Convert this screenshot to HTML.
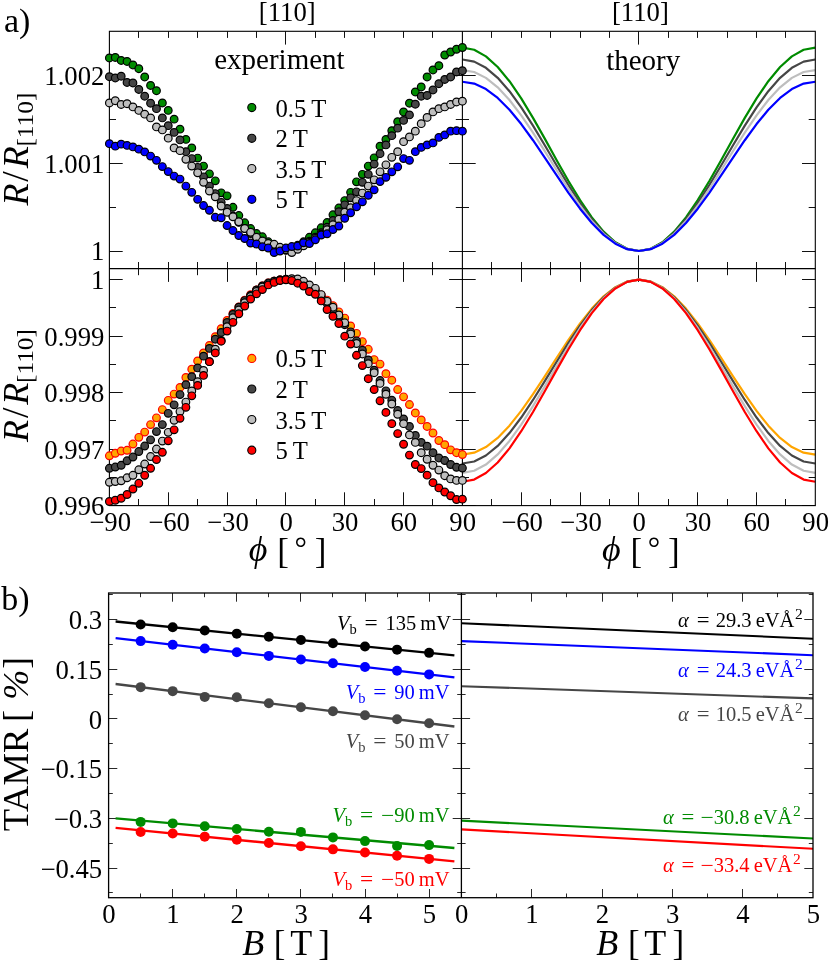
<!DOCTYPE html>
<html><head><meta charset="utf-8"><title>Figure</title>
<style>html,body{margin:0;padding:0;background:#fff;}svg{display:block;will-change:transform;}text{font-family:"Liberation Serif",serif;}</style></head>
<body>
<svg width="830" height="961" viewBox="0 0 830 961" font-family='"Liberation Serif", serif'>
<rect width="830" height="961" fill="#fff"/>
<line x1="138.50" y1="31.30" x2="138.50" y2="37.90" stroke="#111" stroke-width="1.0"/>
<line x1="138.50" y1="268.60" x2="138.50" y2="262.00" stroke="#111" stroke-width="1.0"/>
<line x1="138.50" y1="268.60" x2="138.50" y2="275.20" stroke="#111" stroke-width="1.0"/>
<line x1="138.50" y1="505.60" x2="138.50" y2="499.00" stroke="#111" stroke-width="1.0"/>
<line x1="168.50" y1="31.30" x2="168.50" y2="37.90" stroke="#111" stroke-width="1.0"/>
<line x1="168.50" y1="268.60" x2="168.50" y2="262.00" stroke="#111" stroke-width="1.0"/>
<line x1="168.50" y1="268.60" x2="168.50" y2="281.90" stroke="#111" stroke-width="1.0"/>
<line x1="168.50" y1="505.60" x2="168.50" y2="492.30" stroke="#111" stroke-width="1.0"/>
<line x1="197.50" y1="31.30" x2="197.50" y2="37.90" stroke="#111" stroke-width="1.0"/>
<line x1="197.50" y1="268.60" x2="197.50" y2="262.00" stroke="#111" stroke-width="1.0"/>
<line x1="197.50" y1="268.60" x2="197.50" y2="275.20" stroke="#111" stroke-width="1.0"/>
<line x1="197.50" y1="505.60" x2="197.50" y2="499.00" stroke="#111" stroke-width="1.0"/>
<line x1="227.50" y1="31.30" x2="227.50" y2="37.90" stroke="#111" stroke-width="1.0"/>
<line x1="227.50" y1="268.60" x2="227.50" y2="262.00" stroke="#111" stroke-width="1.0"/>
<line x1="227.50" y1="268.60" x2="227.50" y2="281.90" stroke="#111" stroke-width="1.0"/>
<line x1="227.50" y1="505.60" x2="227.50" y2="492.30" stroke="#111" stroke-width="1.0"/>
<line x1="256.50" y1="31.30" x2="256.50" y2="37.90" stroke="#111" stroke-width="1.0"/>
<line x1="256.50" y1="268.60" x2="256.50" y2="262.00" stroke="#111" stroke-width="1.0"/>
<line x1="256.50" y1="268.60" x2="256.50" y2="275.20" stroke="#111" stroke-width="1.0"/>
<line x1="256.50" y1="505.60" x2="256.50" y2="499.00" stroke="#111" stroke-width="1.0"/>
<line x1="285.50" y1="31.30" x2="285.50" y2="44.60" stroke="#111" stroke-width="1.0"/>
<line x1="285.50" y1="268.60" x2="285.50" y2="255.30" stroke="#111" stroke-width="1.0"/>
<line x1="285.50" y1="268.60" x2="285.50" y2="281.90" stroke="#111" stroke-width="1.0"/>
<line x1="285.50" y1="505.60" x2="285.50" y2="492.30" stroke="#111" stroke-width="1.0"/>
<line x1="315.50" y1="31.30" x2="315.50" y2="37.90" stroke="#111" stroke-width="1.0"/>
<line x1="315.50" y1="268.60" x2="315.50" y2="262.00" stroke="#111" stroke-width="1.0"/>
<line x1="315.50" y1="268.60" x2="315.50" y2="275.20" stroke="#111" stroke-width="1.0"/>
<line x1="315.50" y1="505.60" x2="315.50" y2="499.00" stroke="#111" stroke-width="1.0"/>
<line x1="344.50" y1="31.30" x2="344.50" y2="37.90" stroke="#111" stroke-width="1.0"/>
<line x1="344.50" y1="268.60" x2="344.50" y2="262.00" stroke="#111" stroke-width="1.0"/>
<line x1="344.50" y1="268.60" x2="344.50" y2="281.90" stroke="#111" stroke-width="1.0"/>
<line x1="344.50" y1="505.60" x2="344.50" y2="492.30" stroke="#111" stroke-width="1.0"/>
<line x1="374.50" y1="31.30" x2="374.50" y2="37.90" stroke="#111" stroke-width="1.0"/>
<line x1="374.50" y1="268.60" x2="374.50" y2="262.00" stroke="#111" stroke-width="1.0"/>
<line x1="374.50" y1="268.60" x2="374.50" y2="275.20" stroke="#111" stroke-width="1.0"/>
<line x1="374.50" y1="505.60" x2="374.50" y2="499.00" stroke="#111" stroke-width="1.0"/>
<line x1="403.50" y1="31.30" x2="403.50" y2="37.90" stroke="#111" stroke-width="1.0"/>
<line x1="403.50" y1="268.60" x2="403.50" y2="262.00" stroke="#111" stroke-width="1.0"/>
<line x1="403.50" y1="268.60" x2="403.50" y2="281.90" stroke="#111" stroke-width="1.0"/>
<line x1="403.50" y1="505.60" x2="403.50" y2="492.30" stroke="#111" stroke-width="1.0"/>
<line x1="432.50" y1="31.30" x2="432.50" y2="37.90" stroke="#111" stroke-width="1.0"/>
<line x1="432.50" y1="268.60" x2="432.50" y2="262.00" stroke="#111" stroke-width="1.0"/>
<line x1="432.50" y1="268.60" x2="432.50" y2="275.20" stroke="#111" stroke-width="1.0"/>
<line x1="432.50" y1="505.60" x2="432.50" y2="499.00" stroke="#111" stroke-width="1.0"/>
<line x1="491.50" y1="31.30" x2="491.50" y2="37.90" stroke="#111" stroke-width="1.0"/>
<line x1="491.50" y1="268.60" x2="491.50" y2="262.00" stroke="#111" stroke-width="1.0"/>
<line x1="491.50" y1="268.60" x2="491.50" y2="275.20" stroke="#111" stroke-width="1.0"/>
<line x1="491.50" y1="505.60" x2="491.50" y2="499.00" stroke="#111" stroke-width="1.0"/>
<line x1="521.50" y1="31.30" x2="521.50" y2="37.90" stroke="#111" stroke-width="1.0"/>
<line x1="521.50" y1="268.60" x2="521.50" y2="262.00" stroke="#111" stroke-width="1.0"/>
<line x1="521.50" y1="268.60" x2="521.50" y2="281.90" stroke="#111" stroke-width="1.0"/>
<line x1="521.50" y1="505.60" x2="521.50" y2="492.30" stroke="#111" stroke-width="1.0"/>
<line x1="550.50" y1="31.30" x2="550.50" y2="37.90" stroke="#111" stroke-width="1.0"/>
<line x1="550.50" y1="268.60" x2="550.50" y2="262.00" stroke="#111" stroke-width="1.0"/>
<line x1="550.50" y1="268.60" x2="550.50" y2="275.20" stroke="#111" stroke-width="1.0"/>
<line x1="550.50" y1="505.60" x2="550.50" y2="499.00" stroke="#111" stroke-width="1.0"/>
<line x1="580.50" y1="31.30" x2="580.50" y2="37.90" stroke="#111" stroke-width="1.0"/>
<line x1="580.50" y1="268.60" x2="580.50" y2="262.00" stroke="#111" stroke-width="1.0"/>
<line x1="580.50" y1="268.60" x2="580.50" y2="281.90" stroke="#111" stroke-width="1.0"/>
<line x1="580.50" y1="505.60" x2="580.50" y2="492.30" stroke="#111" stroke-width="1.0"/>
<line x1="609.50" y1="31.30" x2="609.50" y2="37.90" stroke="#111" stroke-width="1.0"/>
<line x1="609.50" y1="268.60" x2="609.50" y2="262.00" stroke="#111" stroke-width="1.0"/>
<line x1="609.50" y1="268.60" x2="609.50" y2="275.20" stroke="#111" stroke-width="1.0"/>
<line x1="609.50" y1="505.60" x2="609.50" y2="499.00" stroke="#111" stroke-width="1.0"/>
<line x1="638.50" y1="31.30" x2="638.50" y2="44.60" stroke="#111" stroke-width="1.0"/>
<line x1="638.50" y1="268.60" x2="638.50" y2="255.30" stroke="#111" stroke-width="1.0"/>
<line x1="638.50" y1="268.60" x2="638.50" y2="281.90" stroke="#111" stroke-width="1.0"/>
<line x1="638.50" y1="505.60" x2="638.50" y2="492.30" stroke="#111" stroke-width="1.0"/>
<line x1="668.50" y1="31.30" x2="668.50" y2="37.90" stroke="#111" stroke-width="1.0"/>
<line x1="668.50" y1="268.60" x2="668.50" y2="262.00" stroke="#111" stroke-width="1.0"/>
<line x1="668.50" y1="268.60" x2="668.50" y2="275.20" stroke="#111" stroke-width="1.0"/>
<line x1="668.50" y1="505.60" x2="668.50" y2="499.00" stroke="#111" stroke-width="1.0"/>
<line x1="697.50" y1="31.30" x2="697.50" y2="37.90" stroke="#111" stroke-width="1.0"/>
<line x1="697.50" y1="268.60" x2="697.50" y2="262.00" stroke="#111" stroke-width="1.0"/>
<line x1="697.50" y1="268.60" x2="697.50" y2="281.90" stroke="#111" stroke-width="1.0"/>
<line x1="697.50" y1="505.60" x2="697.50" y2="492.30" stroke="#111" stroke-width="1.0"/>
<line x1="727.50" y1="31.30" x2="727.50" y2="37.90" stroke="#111" stroke-width="1.0"/>
<line x1="727.50" y1="268.60" x2="727.50" y2="262.00" stroke="#111" stroke-width="1.0"/>
<line x1="727.50" y1="268.60" x2="727.50" y2="275.20" stroke="#111" stroke-width="1.0"/>
<line x1="727.50" y1="505.60" x2="727.50" y2="499.00" stroke="#111" stroke-width="1.0"/>
<line x1="756.50" y1="31.30" x2="756.50" y2="37.90" stroke="#111" stroke-width="1.0"/>
<line x1="756.50" y1="268.60" x2="756.50" y2="262.00" stroke="#111" stroke-width="1.0"/>
<line x1="756.50" y1="268.60" x2="756.50" y2="281.90" stroke="#111" stroke-width="1.0"/>
<line x1="756.50" y1="505.60" x2="756.50" y2="492.30" stroke="#111" stroke-width="1.0"/>
<line x1="785.50" y1="31.30" x2="785.50" y2="37.90" stroke="#111" stroke-width="1.0"/>
<line x1="785.50" y1="268.60" x2="785.50" y2="262.00" stroke="#111" stroke-width="1.0"/>
<line x1="785.50" y1="268.60" x2="785.50" y2="275.20" stroke="#111" stroke-width="1.0"/>
<line x1="785.50" y1="505.60" x2="785.50" y2="499.00" stroke="#111" stroke-width="1.0"/>
<line x1="109.40" y1="251.50" x2="122.70" y2="251.50" stroke="#111" stroke-width="1.0"/>
<line x1="449.10" y1="251.50" x2="475.70" y2="251.50" stroke="#111" stroke-width="1.0"/>
<line x1="802.00" y1="251.50" x2="815.30" y2="251.50" stroke="#111" stroke-width="1.0"/>
<line x1="109.40" y1="207.50" x2="116.00" y2="207.50" stroke="#111" stroke-width="1.0"/>
<line x1="455.80" y1="207.50" x2="469.00" y2="207.50" stroke="#111" stroke-width="1.0"/>
<line x1="808.70" y1="207.50" x2="815.30" y2="207.50" stroke="#111" stroke-width="1.0"/>
<line x1="109.40" y1="163.50" x2="122.70" y2="163.50" stroke="#111" stroke-width="1.0"/>
<line x1="449.10" y1="163.50" x2="475.70" y2="163.50" stroke="#111" stroke-width="1.0"/>
<line x1="802.00" y1="163.50" x2="815.30" y2="163.50" stroke="#111" stroke-width="1.0"/>
<line x1="109.40" y1="119.50" x2="116.00" y2="119.50" stroke="#111" stroke-width="1.0"/>
<line x1="455.80" y1="119.50" x2="469.00" y2="119.50" stroke="#111" stroke-width="1.0"/>
<line x1="808.70" y1="119.50" x2="815.30" y2="119.50" stroke="#111" stroke-width="1.0"/>
<line x1="109.40" y1="75.50" x2="122.70" y2="75.50" stroke="#111" stroke-width="1.0"/>
<line x1="449.10" y1="75.50" x2="475.70" y2="75.50" stroke="#111" stroke-width="1.0"/>
<line x1="802.00" y1="75.50" x2="815.30" y2="75.50" stroke="#111" stroke-width="1.0"/>
<line x1="109.40" y1="505.50" x2="122.70" y2="505.50" stroke="#111" stroke-width="1.0"/>
<line x1="449.10" y1="505.50" x2="475.70" y2="505.50" stroke="#111" stroke-width="1.0"/>
<line x1="802.00" y1="505.50" x2="815.30" y2="505.50" stroke="#111" stroke-width="1.0"/>
<line x1="109.40" y1="477.50" x2="116.00" y2="477.50" stroke="#111" stroke-width="1.0"/>
<line x1="455.80" y1="477.50" x2="469.00" y2="477.50" stroke="#111" stroke-width="1.0"/>
<line x1="808.70" y1="477.50" x2="815.30" y2="477.50" stroke="#111" stroke-width="1.0"/>
<line x1="109.40" y1="449.50" x2="122.70" y2="449.50" stroke="#111" stroke-width="1.0"/>
<line x1="449.10" y1="449.50" x2="475.70" y2="449.50" stroke="#111" stroke-width="1.0"/>
<line x1="802.00" y1="449.50" x2="815.30" y2="449.50" stroke="#111" stroke-width="1.0"/>
<line x1="109.40" y1="420.50" x2="116.00" y2="420.50" stroke="#111" stroke-width="1.0"/>
<line x1="455.80" y1="420.50" x2="469.00" y2="420.50" stroke="#111" stroke-width="1.0"/>
<line x1="808.70" y1="420.50" x2="815.30" y2="420.50" stroke="#111" stroke-width="1.0"/>
<line x1="109.40" y1="392.50" x2="122.70" y2="392.50" stroke="#111" stroke-width="1.0"/>
<line x1="449.10" y1="392.50" x2="475.70" y2="392.50" stroke="#111" stroke-width="1.0"/>
<line x1="802.00" y1="392.50" x2="815.30" y2="392.50" stroke="#111" stroke-width="1.0"/>
<line x1="109.40" y1="364.50" x2="116.00" y2="364.50" stroke="#111" stroke-width="1.0"/>
<line x1="455.80" y1="364.50" x2="469.00" y2="364.50" stroke="#111" stroke-width="1.0"/>
<line x1="808.70" y1="364.50" x2="815.30" y2="364.50" stroke="#111" stroke-width="1.0"/>
<line x1="109.40" y1="336.50" x2="122.70" y2="336.50" stroke="#111" stroke-width="1.0"/>
<line x1="449.10" y1="336.50" x2="475.70" y2="336.50" stroke="#111" stroke-width="1.0"/>
<line x1="802.00" y1="336.50" x2="815.30" y2="336.50" stroke="#111" stroke-width="1.0"/>
<line x1="109.40" y1="307.50" x2="116.00" y2="307.50" stroke="#111" stroke-width="1.0"/>
<line x1="455.80" y1="307.50" x2="469.00" y2="307.50" stroke="#111" stroke-width="1.0"/>
<line x1="808.70" y1="307.50" x2="815.30" y2="307.50" stroke="#111" stroke-width="1.0"/>
<line x1="109.40" y1="279.50" x2="122.70" y2="279.50" stroke="#111" stroke-width="1.0"/>
<line x1="449.10" y1="279.50" x2="475.70" y2="279.50" stroke="#111" stroke-width="1.0"/>
<line x1="802.00" y1="279.50" x2="815.30" y2="279.50" stroke="#111" stroke-width="1.0"/>
<clipPath id="cT"><rect x="462.4" y="31.3" width="352.9" height="237.3"/></clipPath>
<clipPath id="cB"><rect x="462.4" y="268.6" width="352.9" height="237.0"/></clipPath>
<g clip-path="url(#cT)">
<polyline fill="none" stroke="#008b00" stroke-width="2.2" stroke-linejoin="round" points="462.40,47.56 474.17,49.78 485.93,56.35 497.70,66.99 509.47,81.22 521.23,98.42 533.00,117.85 544.77,138.66 556.53,159.92 568.30,180.73 580.07,200.16 591.83,217.36 603.60,231.59 615.37,242.23 627.13,248.80 638.90,251.02 650.67,248.80 662.43,242.23 674.20,231.59 685.97,217.36 697.73,200.16 709.50,180.73 721.27,159.92 733.03,138.66 744.80,117.85 756.57,98.42 768.33,81.22 780.10,66.99 791.87,56.35 803.63,49.78 815.40,47.56"/>
<polyline fill="none" stroke="#464646" stroke-width="2.2" stroke-linejoin="round" points="462.40,59.51 474.17,61.60 485.93,67.79 497.70,77.80 509.47,91.19 521.23,107.39 533.00,125.68 544.77,145.26 556.53,165.28 568.30,184.86 580.07,203.14 591.83,219.34 603.60,232.73 615.37,242.74 627.13,248.93 638.90,251.02 650.67,248.93 662.43,242.74 674.20,232.73 685.97,219.34 697.73,203.14 709.50,184.86 721.27,165.28 733.03,145.26 744.80,125.68 756.57,107.39 768.33,91.19 780.10,77.80 791.87,67.79 803.63,61.60 815.40,59.51"/>
<polyline fill="none" stroke="#bebebe" stroke-width="2.2" stroke-linejoin="round" points="462.40,70.06 474.17,72.03 485.93,77.88 497.70,87.34 509.47,99.99 521.23,115.30 533.00,132.58 544.77,151.08 556.53,170.00 568.30,188.50 580.07,205.78 591.83,221.08 603.60,233.74 615.37,243.20 627.13,249.04 638.90,251.02 650.67,249.04 662.43,243.20 674.20,233.74 685.97,221.08 697.73,205.78 709.50,188.50 721.27,170.00 733.03,151.08 744.80,132.58 756.57,115.30 768.33,99.99 780.10,87.34 791.87,77.88 803.63,72.03 815.40,70.06"/>
<polyline fill="none" stroke="#0000ff" stroke-width="2.2" stroke-linejoin="round" points="462.40,81.75 474.17,83.60 485.93,89.06 497.70,97.91 509.47,109.75 521.23,124.06 533.00,140.23 544.77,157.54 556.53,175.23 568.30,192.54 580.07,208.70 591.83,223.02 603.60,234.86 615.37,243.70 627.13,249.17 638.90,251.02 650.67,249.17 662.43,243.70 674.20,234.86 685.97,223.02 697.73,208.70 709.50,192.54 721.27,175.23 733.03,157.54 744.80,140.23 756.57,124.06 768.33,109.75 780.10,97.91 791.87,89.06 803.63,83.60 815.40,81.75"/>
</g>
<g clip-path="url(#cB)">
<polyline fill="none" stroke="#ffa500" stroke-width="2.2" stroke-linejoin="round" points="462.40,454.60 474.17,452.69 485.93,447.04 497.70,437.90 509.47,425.66 521.23,410.87 533.00,394.17 544.77,376.28 556.53,358.00 568.30,340.11 580.07,323.41 591.83,308.62 603.60,296.38 615.37,287.24 627.13,281.59 638.90,279.68 650.67,281.59 662.43,287.24 674.20,296.38 685.97,308.62 697.73,323.41 709.50,340.11 721.27,358.00 733.03,376.28 744.80,394.17 756.57,410.87 768.33,425.66 780.10,437.90 791.87,447.04 803.63,452.69 815.40,454.60"/>
<polyline fill="none" stroke="#464646" stroke-width="2.2" stroke-linejoin="round" points="462.40,463.47 474.17,461.46 485.93,455.52 497.70,445.92 509.47,433.06 521.23,417.52 533.00,399.97 544.77,381.18 556.53,361.97 568.30,343.18 580.07,325.63 591.83,310.08 603.60,297.23 615.37,287.62 627.13,281.69 638.90,279.68 650.67,281.69 662.43,287.62 674.20,297.23 685.97,310.08 697.73,325.63 709.50,343.18 721.27,361.97 733.03,381.18 744.80,399.97 756.57,417.52 768.33,433.06 780.10,445.92 791.87,455.52 803.63,461.46 815.40,463.47"/>
<polyline fill="none" stroke="#bebebe" stroke-width="2.2" stroke-linejoin="round" points="462.40,472.90 474.17,470.79 485.93,464.55 497.70,454.45 509.47,440.93 521.23,424.59 533.00,406.14 544.77,386.39 556.53,366.19 568.30,346.44 580.07,327.98 591.83,311.64 603.60,298.13 615.37,288.03 627.13,281.79 638.90,279.68 650.67,281.79 662.43,288.03 674.20,298.13 685.97,311.64 697.73,327.98 709.50,346.44 721.27,366.19 733.03,386.39 744.80,406.14 756.57,424.59 768.33,440.93 780.10,454.45 791.87,464.55 803.63,470.79 815.40,472.90"/>
<polyline fill="none" stroke="#ff0000" stroke-width="2.2" stroke-linejoin="round" points="462.40,481.77 474.17,479.56 485.93,473.03 497.70,462.47 509.47,448.33 521.23,431.24 533.00,411.95 544.77,391.28 556.53,370.16 568.30,349.50 580.07,330.20 591.83,313.11 603.60,298.98 615.37,288.42 627.13,281.89 638.90,279.68 650.67,281.89 662.43,288.42 674.20,298.98 685.97,313.11 697.73,330.20 709.50,349.50 721.27,370.16 733.03,391.28 744.80,411.95 756.57,431.24 768.33,448.33 780.10,462.47 791.87,473.03 803.63,479.56 815.40,481.77"/>
</g>
<rect x="109.4" y="31.3" width="705.9" height="474.3" fill="none" stroke="#000" stroke-width="1.1"/>
<line x1="462.40" y1="31.30" x2="462.40" y2="505.60" stroke="#000" stroke-width="1.1"/>
<line x1="109.40" y1="268.60" x2="815.30" y2="268.60" stroke="#000" stroke-width="1.1"/>
<circle cx="109.40" cy="57.97" r="3.85" fill="#008b00" stroke="#000" stroke-width="1.2"/>
<circle cx="115.28" cy="57.47" r="3.85" fill="#008b00" stroke="#000" stroke-width="1.2"/>
<circle cx="121.17" cy="60.47" r="3.85" fill="#008b00" stroke="#000" stroke-width="1.2"/>
<circle cx="127.05" cy="61.47" r="3.85" fill="#008b00" stroke="#000" stroke-width="1.2"/>
<circle cx="132.93" cy="64.97" r="3.85" fill="#008b00" stroke="#000" stroke-width="1.2"/>
<circle cx="138.82" cy="68.71" r="3.85" fill="#008b00" stroke="#000" stroke-width="1.2"/>
<circle cx="144.70" cy="76.95" r="3.85" fill="#008b00" stroke="#000" stroke-width="1.2"/>
<circle cx="150.58" cy="85.44" r="3.85" fill="#008b00" stroke="#000" stroke-width="1.2"/>
<circle cx="156.47" cy="90.69" r="3.85" fill="#008b00" stroke="#000" stroke-width="1.2"/>
<circle cx="162.35" cy="102.93" r="3.85" fill="#008b00" stroke="#000" stroke-width="1.2"/>
<circle cx="168.23" cy="110.42" r="3.85" fill="#008b00" stroke="#000" stroke-width="1.2"/>
<circle cx="174.12" cy="119.16" r="3.85" fill="#008b00" stroke="#000" stroke-width="1.2"/>
<circle cx="180.00" cy="129.15" r="3.85" fill="#008b00" stroke="#000" stroke-width="1.2"/>
<circle cx="185.88" cy="139.39" r="3.85" fill="#008b00" stroke="#000" stroke-width="1.2"/>
<circle cx="191.77" cy="147.88" r="3.85" fill="#008b00" stroke="#000" stroke-width="1.2"/>
<circle cx="197.65" cy="158.12" r="3.85" fill="#008b00" stroke="#000" stroke-width="1.2"/>
<circle cx="203.53" cy="166.11" r="3.85" fill="#008b00" stroke="#000" stroke-width="1.2"/>
<circle cx="209.42" cy="173.86" r="3.85" fill="#008b00" stroke="#000" stroke-width="1.2"/>
<circle cx="215.30" cy="180.85" r="3.85" fill="#008b00" stroke="#000" stroke-width="1.2"/>
<circle cx="221.18" cy="192.84" r="3.85" fill="#008b00" stroke="#000" stroke-width="1.2"/>
<circle cx="227.07" cy="195.83" r="3.85" fill="#008b00" stroke="#000" stroke-width="1.2"/>
<circle cx="232.95" cy="207.32" r="3.85" fill="#008b00" stroke="#000" stroke-width="1.2"/>
<circle cx="238.83" cy="215.56" r="3.85" fill="#008b00" stroke="#000" stroke-width="1.2"/>
<circle cx="244.72" cy="222.81" r="3.85" fill="#008b00" stroke="#000" stroke-width="1.2"/>
<circle cx="250.60" cy="228.55" r="3.85" fill="#008b00" stroke="#000" stroke-width="1.2"/>
<circle cx="256.48" cy="233.55" r="3.85" fill="#008b00" stroke="#000" stroke-width="1.2"/>
<circle cx="262.37" cy="236.79" r="3.85" fill="#008b00" stroke="#000" stroke-width="1.2"/>
<circle cx="268.25" cy="241.79" r="3.85" fill="#008b00" stroke="#000" stroke-width="1.2"/>
<circle cx="274.13" cy="245.28" r="3.85" fill="#008b00" stroke="#000" stroke-width="1.2"/>
<circle cx="280.02" cy="247.78" r="3.85" fill="#008b00" stroke="#000" stroke-width="1.2"/>
<circle cx="285.90" cy="249.28" r="3.85" fill="#008b00" stroke="#000" stroke-width="1.2"/>
<circle cx="291.78" cy="247.78" r="3.85" fill="#008b00" stroke="#000" stroke-width="1.2"/>
<circle cx="297.67" cy="245.28" r="3.85" fill="#008b00" stroke="#000" stroke-width="1.2"/>
<circle cx="303.55" cy="241.79" r="3.85" fill="#008b00" stroke="#000" stroke-width="1.2"/>
<circle cx="309.43" cy="237.29" r="3.85" fill="#008b00" stroke="#000" stroke-width="1.2"/>
<circle cx="315.32" cy="232.80" r="3.85" fill="#008b00" stroke="#000" stroke-width="1.2"/>
<circle cx="321.20" cy="227.80" r="3.85" fill="#008b00" stroke="#000" stroke-width="1.2"/>
<circle cx="327.08" cy="222.56" r="3.85" fill="#008b00" stroke="#000" stroke-width="1.2"/>
<circle cx="332.97" cy="214.82" r="3.85" fill="#008b00" stroke="#000" stroke-width="1.2"/>
<circle cx="338.85" cy="208.07" r="3.85" fill="#008b00" stroke="#000" stroke-width="1.2"/>
<circle cx="344.73" cy="200.58" r="3.85" fill="#008b00" stroke="#000" stroke-width="1.2"/>
<circle cx="350.62" cy="192.34" r="3.85" fill="#008b00" stroke="#000" stroke-width="1.2"/>
<circle cx="356.50" cy="181.85" r="3.85" fill="#008b00" stroke="#000" stroke-width="1.2"/>
<circle cx="362.38" cy="174.36" r="3.85" fill="#008b00" stroke="#000" stroke-width="1.2"/>
<circle cx="368.27" cy="166.11" r="3.85" fill="#008b00" stroke="#000" stroke-width="1.2"/>
<circle cx="374.15" cy="157.87" r="3.85" fill="#008b00" stroke="#000" stroke-width="1.2"/>
<circle cx="380.03" cy="146.13" r="3.85" fill="#008b00" stroke="#000" stroke-width="1.2"/>
<circle cx="385.92" cy="139.39" r="3.85" fill="#008b00" stroke="#000" stroke-width="1.2"/>
<circle cx="391.80" cy="130.65" r="3.85" fill="#008b00" stroke="#000" stroke-width="1.2"/>
<circle cx="397.68" cy="121.66" r="3.85" fill="#008b00" stroke="#000" stroke-width="1.2"/>
<circle cx="403.57" cy="111.92" r="3.85" fill="#008b00" stroke="#000" stroke-width="1.2"/>
<circle cx="409.45" cy="103.18" r="3.85" fill="#008b00" stroke="#000" stroke-width="1.2"/>
<circle cx="415.33" cy="91.94" r="3.85" fill="#008b00" stroke="#000" stroke-width="1.2"/>
<circle cx="421.22" cy="86.94" r="3.85" fill="#008b00" stroke="#000" stroke-width="1.2"/>
<circle cx="427.10" cy="76.95" r="3.85" fill="#008b00" stroke="#000" stroke-width="1.2"/>
<circle cx="432.98" cy="69.96" r="3.85" fill="#008b00" stroke="#000" stroke-width="1.2"/>
<circle cx="438.87" cy="65.71" r="3.85" fill="#008b00" stroke="#000" stroke-width="1.2"/>
<circle cx="444.75" cy="54.98" r="3.85" fill="#008b00" stroke="#000" stroke-width="1.2"/>
<circle cx="450.63" cy="51.98" r="3.85" fill="#008b00" stroke="#000" stroke-width="1.2"/>
<circle cx="456.52" cy="49.23" r="3.85" fill="#008b00" stroke="#000" stroke-width="1.2"/>
<circle cx="462.40" cy="47.48" r="3.85" fill="#008b00" stroke="#000" stroke-width="1.2"/>
<circle cx="109.40" cy="76.70" r="3.85" fill="#464646" stroke="#000" stroke-width="1.2"/>
<circle cx="115.28" cy="77.95" r="3.85" fill="#464646" stroke="#000" stroke-width="1.2"/>
<circle cx="121.17" cy="76.20" r="3.85" fill="#464646" stroke="#000" stroke-width="1.2"/>
<circle cx="127.05" cy="82.45" r="3.85" fill="#464646" stroke="#000" stroke-width="1.2"/>
<circle cx="132.93" cy="82.95" r="3.85" fill="#464646" stroke="#000" stroke-width="1.2"/>
<circle cx="138.82" cy="89.44" r="3.85" fill="#464646" stroke="#000" stroke-width="1.2"/>
<circle cx="144.70" cy="96.18" r="3.85" fill="#464646" stroke="#000" stroke-width="1.2"/>
<circle cx="150.58" cy="103.18" r="3.85" fill="#464646" stroke="#000" stroke-width="1.2"/>
<circle cx="156.47" cy="108.67" r="3.85" fill="#464646" stroke="#000" stroke-width="1.2"/>
<circle cx="162.35" cy="117.91" r="3.85" fill="#464646" stroke="#000" stroke-width="1.2"/>
<circle cx="168.23" cy="125.65" r="3.85" fill="#464646" stroke="#000" stroke-width="1.2"/>
<circle cx="174.12" cy="132.40" r="3.85" fill="#464646" stroke="#000" stroke-width="1.2"/>
<circle cx="180.00" cy="139.89" r="3.85" fill="#464646" stroke="#000" stroke-width="1.2"/>
<circle cx="185.88" cy="151.63" r="3.85" fill="#464646" stroke="#000" stroke-width="1.2"/>
<circle cx="191.77" cy="158.62" r="3.85" fill="#464646" stroke="#000" stroke-width="1.2"/>
<circle cx="197.65" cy="167.36" r="3.85" fill="#464646" stroke="#000" stroke-width="1.2"/>
<circle cx="203.53" cy="176.85" r="3.85" fill="#464646" stroke="#000" stroke-width="1.2"/>
<circle cx="209.42" cy="186.09" r="3.85" fill="#464646" stroke="#000" stroke-width="1.2"/>
<circle cx="215.30" cy="193.59" r="3.85" fill="#464646" stroke="#000" stroke-width="1.2"/>
<circle cx="221.18" cy="202.33" r="3.85" fill="#464646" stroke="#000" stroke-width="1.2"/>
<circle cx="227.07" cy="208.57" r="3.85" fill="#464646" stroke="#000" stroke-width="1.2"/>
<circle cx="232.95" cy="216.06" r="3.85" fill="#464646" stroke="#000" stroke-width="1.2"/>
<circle cx="238.83" cy="222.31" r="3.85" fill="#464646" stroke="#000" stroke-width="1.2"/>
<circle cx="244.72" cy="228.55" r="3.85" fill="#464646" stroke="#000" stroke-width="1.2"/>
<circle cx="250.60" cy="233.55" r="3.85" fill="#464646" stroke="#000" stroke-width="1.2"/>
<circle cx="256.48" cy="237.79" r="3.85" fill="#464646" stroke="#000" stroke-width="1.2"/>
<circle cx="262.37" cy="241.79" r="3.85" fill="#464646" stroke="#000" stroke-width="1.2"/>
<circle cx="268.25" cy="244.79" r="3.85" fill="#464646" stroke="#000" stroke-width="1.2"/>
<circle cx="274.13" cy="247.28" r="3.85" fill="#464646" stroke="#000" stroke-width="1.2"/>
<circle cx="280.02" cy="249.28" r="3.85" fill="#464646" stroke="#000" stroke-width="1.2"/>
<circle cx="285.90" cy="250.28" r="3.85" fill="#464646" stroke="#000" stroke-width="1.2"/>
<circle cx="291.78" cy="249.28" r="3.85" fill="#464646" stroke="#000" stroke-width="1.2"/>
<circle cx="297.67" cy="247.28" r="3.85" fill="#464646" stroke="#000" stroke-width="1.2"/>
<circle cx="303.55" cy="244.79" r="3.85" fill="#464646" stroke="#000" stroke-width="1.2"/>
<circle cx="309.43" cy="241.29" r="3.85" fill="#464646" stroke="#000" stroke-width="1.2"/>
<circle cx="315.32" cy="237.29" r="3.85" fill="#464646" stroke="#000" stroke-width="1.2"/>
<circle cx="321.20" cy="232.80" r="3.85" fill="#464646" stroke="#000" stroke-width="1.2"/>
<circle cx="327.08" cy="227.30" r="3.85" fill="#464646" stroke="#000" stroke-width="1.2"/>
<circle cx="332.97" cy="220.56" r="3.85" fill="#464646" stroke="#000" stroke-width="1.2"/>
<circle cx="338.85" cy="211.82" r="3.85" fill="#464646" stroke="#000" stroke-width="1.2"/>
<circle cx="344.73" cy="204.83" r="3.85" fill="#464646" stroke="#000" stroke-width="1.2"/>
<circle cx="350.62" cy="197.83" r="3.85" fill="#464646" stroke="#000" stroke-width="1.2"/>
<circle cx="356.50" cy="191.84" r="3.85" fill="#464646" stroke="#000" stroke-width="1.2"/>
<circle cx="362.38" cy="182.35" r="3.85" fill="#464646" stroke="#000" stroke-width="1.2"/>
<circle cx="368.27" cy="174.36" r="3.85" fill="#464646" stroke="#000" stroke-width="1.2"/>
<circle cx="374.15" cy="164.12" r="3.85" fill="#464646" stroke="#000" stroke-width="1.2"/>
<circle cx="380.03" cy="153.63" r="3.85" fill="#464646" stroke="#000" stroke-width="1.2"/>
<circle cx="385.92" cy="144.89" r="3.85" fill="#464646" stroke="#000" stroke-width="1.2"/>
<circle cx="391.80" cy="135.64" r="3.85" fill="#464646" stroke="#000" stroke-width="1.2"/>
<circle cx="397.68" cy="128.15" r="3.85" fill="#464646" stroke="#000" stroke-width="1.2"/>
<circle cx="403.57" cy="120.41" r="3.85" fill="#464646" stroke="#000" stroke-width="1.2"/>
<circle cx="409.45" cy="114.92" r="3.85" fill="#464646" stroke="#000" stroke-width="1.2"/>
<circle cx="415.33" cy="104.18" r="3.85" fill="#464646" stroke="#000" stroke-width="1.2"/>
<circle cx="421.22" cy="96.18" r="3.85" fill="#464646" stroke="#000" stroke-width="1.2"/>
<circle cx="427.10" cy="95.43" r="3.85" fill="#464646" stroke="#000" stroke-width="1.2"/>
<circle cx="432.98" cy="89.94" r="3.85" fill="#464646" stroke="#000" stroke-width="1.2"/>
<circle cx="438.87" cy="83.70" r="3.85" fill="#464646" stroke="#000" stroke-width="1.2"/>
<circle cx="444.75" cy="79.45" r="3.85" fill="#464646" stroke="#000" stroke-width="1.2"/>
<circle cx="450.63" cy="76.95" r="3.85" fill="#464646" stroke="#000" stroke-width="1.2"/>
<circle cx="456.52" cy="71.96" r="3.85" fill="#464646" stroke="#000" stroke-width="1.2"/>
<circle cx="462.40" cy="70.71" r="3.85" fill="#464646" stroke="#000" stroke-width="1.2"/>
<circle cx="109.40" cy="102.93" r="3.85" fill="#bebebe" stroke="#000" stroke-width="1.2"/>
<circle cx="115.28" cy="100.68" r="3.85" fill="#bebebe" stroke="#000" stroke-width="1.2"/>
<circle cx="121.17" cy="104.43" r="3.85" fill="#bebebe" stroke="#000" stroke-width="1.2"/>
<circle cx="127.05" cy="103.68" r="3.85" fill="#bebebe" stroke="#000" stroke-width="1.2"/>
<circle cx="132.93" cy="106.92" r="3.85" fill="#bebebe" stroke="#000" stroke-width="1.2"/>
<circle cx="138.82" cy="110.42" r="3.85" fill="#bebebe" stroke="#000" stroke-width="1.2"/>
<circle cx="144.70" cy="114.17" r="3.85" fill="#bebebe" stroke="#000" stroke-width="1.2"/>
<circle cx="150.58" cy="117.91" r="3.85" fill="#bebebe" stroke="#000" stroke-width="1.2"/>
<circle cx="156.47" cy="126.90" r="3.85" fill="#bebebe" stroke="#000" stroke-width="1.2"/>
<circle cx="162.35" cy="129.90" r="3.85" fill="#bebebe" stroke="#000" stroke-width="1.2"/>
<circle cx="168.23" cy="138.14" r="3.85" fill="#bebebe" stroke="#000" stroke-width="1.2"/>
<circle cx="174.12" cy="147.88" r="3.85" fill="#bebebe" stroke="#000" stroke-width="1.2"/>
<circle cx="180.00" cy="150.63" r="3.85" fill="#bebebe" stroke="#000" stroke-width="1.2"/>
<circle cx="185.88" cy="159.37" r="3.85" fill="#bebebe" stroke="#000" stroke-width="1.2"/>
<circle cx="191.77" cy="166.11" r="3.85" fill="#bebebe" stroke="#000" stroke-width="1.2"/>
<circle cx="197.65" cy="172.86" r="3.85" fill="#bebebe" stroke="#000" stroke-width="1.2"/>
<circle cx="203.53" cy="182.35" r="3.85" fill="#bebebe" stroke="#000" stroke-width="1.2"/>
<circle cx="209.42" cy="191.09" r="3.85" fill="#bebebe" stroke="#000" stroke-width="1.2"/>
<circle cx="215.30" cy="196.83" r="3.85" fill="#bebebe" stroke="#000" stroke-width="1.2"/>
<circle cx="221.18" cy="206.07" r="3.85" fill="#bebebe" stroke="#000" stroke-width="1.2"/>
<circle cx="227.07" cy="212.32" r="3.85" fill="#bebebe" stroke="#000" stroke-width="1.2"/>
<circle cx="232.95" cy="216.81" r="3.85" fill="#bebebe" stroke="#000" stroke-width="1.2"/>
<circle cx="238.83" cy="221.81" r="3.85" fill="#bebebe" stroke="#000" stroke-width="1.2"/>
<circle cx="244.72" cy="228.55" r="3.85" fill="#bebebe" stroke="#000" stroke-width="1.2"/>
<circle cx="250.60" cy="232.30" r="3.85" fill="#bebebe" stroke="#000" stroke-width="1.2"/>
<circle cx="256.48" cy="237.29" r="3.85" fill="#bebebe" stroke="#000" stroke-width="1.2"/>
<circle cx="262.37" cy="241.04" r="3.85" fill="#bebebe" stroke="#000" stroke-width="1.2"/>
<circle cx="268.25" cy="243.54" r="3.85" fill="#bebebe" stroke="#000" stroke-width="1.2"/>
<circle cx="274.13" cy="244.29" r="3.85" fill="#bebebe" stroke="#000" stroke-width="1.2"/>
<circle cx="280.02" cy="247.28" r="3.85" fill="#bebebe" stroke="#000" stroke-width="1.2"/>
<circle cx="285.90" cy="249.78" r="3.85" fill="#bebebe" stroke="#000" stroke-width="1.2"/>
<circle cx="291.78" cy="252.53" r="3.85" fill="#bebebe" stroke="#000" stroke-width="1.2"/>
<circle cx="297.67" cy="249.28" r="3.85" fill="#bebebe" stroke="#000" stroke-width="1.2"/>
<circle cx="303.55" cy="245.78" r="3.85" fill="#bebebe" stroke="#000" stroke-width="1.2"/>
<circle cx="309.43" cy="242.29" r="3.85" fill="#bebebe" stroke="#000" stroke-width="1.2"/>
<circle cx="315.32" cy="238.54" r="3.85" fill="#bebebe" stroke="#000" stroke-width="1.2"/>
<circle cx="321.20" cy="234.30" r="3.85" fill="#bebebe" stroke="#000" stroke-width="1.2"/>
<circle cx="327.08" cy="229.80" r="3.85" fill="#bebebe" stroke="#000" stroke-width="1.2"/>
<circle cx="332.97" cy="224.81" r="3.85" fill="#bebebe" stroke="#000" stroke-width="1.2"/>
<circle cx="338.85" cy="219.31" r="3.85" fill="#bebebe" stroke="#000" stroke-width="1.2"/>
<circle cx="344.73" cy="212.32" r="3.85" fill="#bebebe" stroke="#000" stroke-width="1.2"/>
<circle cx="350.62" cy="207.82" r="3.85" fill="#bebebe" stroke="#000" stroke-width="1.2"/>
<circle cx="356.50" cy="200.58" r="3.85" fill="#bebebe" stroke="#000" stroke-width="1.2"/>
<circle cx="362.38" cy="193.09" r="3.85" fill="#bebebe" stroke="#000" stroke-width="1.2"/>
<circle cx="368.27" cy="186.09" r="3.85" fill="#bebebe" stroke="#000" stroke-width="1.2"/>
<circle cx="374.15" cy="179.85" r="3.85" fill="#bebebe" stroke="#000" stroke-width="1.2"/>
<circle cx="380.03" cy="171.86" r="3.85" fill="#bebebe" stroke="#000" stroke-width="1.2"/>
<circle cx="385.92" cy="164.87" r="3.85" fill="#bebebe" stroke="#000" stroke-width="1.2"/>
<circle cx="391.80" cy="157.37" r="3.85" fill="#bebebe" stroke="#000" stroke-width="1.2"/>
<circle cx="397.68" cy="151.63" r="3.85" fill="#bebebe" stroke="#000" stroke-width="1.2"/>
<circle cx="403.57" cy="141.64" r="3.85" fill="#bebebe" stroke="#000" stroke-width="1.2"/>
<circle cx="409.45" cy="136.89" r="3.85" fill="#bebebe" stroke="#000" stroke-width="1.2"/>
<circle cx="415.33" cy="131.15" r="3.85" fill="#bebebe" stroke="#000" stroke-width="1.2"/>
<circle cx="421.22" cy="123.66" r="3.85" fill="#bebebe" stroke="#000" stroke-width="1.2"/>
<circle cx="427.10" cy="117.41" r="3.85" fill="#bebebe" stroke="#000" stroke-width="1.2"/>
<circle cx="432.98" cy="111.92" r="3.85" fill="#bebebe" stroke="#000" stroke-width="1.2"/>
<circle cx="438.87" cy="108.67" r="3.85" fill="#bebebe" stroke="#000" stroke-width="1.2"/>
<circle cx="444.75" cy="106.92" r="3.85" fill="#bebebe" stroke="#000" stroke-width="1.2"/>
<circle cx="450.63" cy="104.43" r="3.85" fill="#bebebe" stroke="#000" stroke-width="1.2"/>
<circle cx="456.52" cy="101.93" r="3.85" fill="#bebebe" stroke="#000" stroke-width="1.2"/>
<circle cx="462.40" cy="101.18" r="3.85" fill="#bebebe" stroke="#000" stroke-width="1.2"/>
<circle cx="109.40" cy="143.64" r="3.85" fill="#0000ff" stroke="#000" stroke-width="1.2"/>
<circle cx="115.28" cy="146.13" r="3.85" fill="#0000ff" stroke="#000" stroke-width="1.2"/>
<circle cx="121.17" cy="144.14" r="3.85" fill="#0000ff" stroke="#000" stroke-width="1.2"/>
<circle cx="127.05" cy="145.38" r="3.85" fill="#0000ff" stroke="#000" stroke-width="1.2"/>
<circle cx="132.93" cy="146.88" r="3.85" fill="#0000ff" stroke="#000" stroke-width="1.2"/>
<circle cx="138.82" cy="149.13" r="3.85" fill="#0000ff" stroke="#000" stroke-width="1.2"/>
<circle cx="144.70" cy="151.88" r="3.85" fill="#0000ff" stroke="#000" stroke-width="1.2"/>
<circle cx="150.58" cy="156.12" r="3.85" fill="#0000ff" stroke="#000" stroke-width="1.2"/>
<circle cx="156.47" cy="160.37" r="3.85" fill="#0000ff" stroke="#000" stroke-width="1.2"/>
<circle cx="162.35" cy="166.61" r="3.85" fill="#0000ff" stroke="#000" stroke-width="1.2"/>
<circle cx="168.23" cy="171.61" r="3.85" fill="#0000ff" stroke="#000" stroke-width="1.2"/>
<circle cx="174.12" cy="176.10" r="3.85" fill="#0000ff" stroke="#000" stroke-width="1.2"/>
<circle cx="180.00" cy="179.10" r="3.85" fill="#0000ff" stroke="#000" stroke-width="1.2"/>
<circle cx="185.88" cy="186.09" r="3.85" fill="#0000ff" stroke="#000" stroke-width="1.2"/>
<circle cx="191.77" cy="192.34" r="3.85" fill="#0000ff" stroke="#000" stroke-width="1.2"/>
<circle cx="197.65" cy="199.33" r="3.85" fill="#0000ff" stroke="#000" stroke-width="1.2"/>
<circle cx="203.53" cy="205.57" r="3.85" fill="#0000ff" stroke="#000" stroke-width="1.2"/>
<circle cx="209.42" cy="210.32" r="3.85" fill="#0000ff" stroke="#000" stroke-width="1.2"/>
<circle cx="215.30" cy="217.31" r="3.85" fill="#0000ff" stroke="#000" stroke-width="1.2"/>
<circle cx="221.18" cy="217.81" r="3.85" fill="#0000ff" stroke="#000" stroke-width="1.2"/>
<circle cx="227.07" cy="225.55" r="3.85" fill="#0000ff" stroke="#000" stroke-width="1.2"/>
<circle cx="232.95" cy="230.55" r="3.85" fill="#0000ff" stroke="#000" stroke-width="1.2"/>
<circle cx="238.83" cy="235.54" r="3.85" fill="#0000ff" stroke="#000" stroke-width="1.2"/>
<circle cx="244.72" cy="238.54" r="3.85" fill="#0000ff" stroke="#000" stroke-width="1.2"/>
<circle cx="250.60" cy="243.04" r="3.85" fill="#0000ff" stroke="#000" stroke-width="1.2"/>
<circle cx="256.48" cy="244.04" r="3.85" fill="#0000ff" stroke="#000" stroke-width="1.2"/>
<circle cx="262.37" cy="246.78" r="3.85" fill="#0000ff" stroke="#000" stroke-width="1.2"/>
<circle cx="268.25" cy="248.03" r="3.85" fill="#0000ff" stroke="#000" stroke-width="1.2"/>
<circle cx="274.13" cy="252.53" r="3.85" fill="#0000ff" stroke="#000" stroke-width="1.2"/>
<circle cx="280.02" cy="251.03" r="3.85" fill="#0000ff" stroke="#000" stroke-width="1.2"/>
<circle cx="285.90" cy="248.03" r="3.85" fill="#0000ff" stroke="#000" stroke-width="1.2"/>
<circle cx="291.78" cy="246.53" r="3.85" fill="#0000ff" stroke="#000" stroke-width="1.2"/>
<circle cx="297.67" cy="246.03" r="3.85" fill="#0000ff" stroke="#000" stroke-width="1.2"/>
<circle cx="303.55" cy="242.79" r="3.85" fill="#0000ff" stroke="#000" stroke-width="1.2"/>
<circle cx="309.43" cy="243.54" r="3.85" fill="#0000ff" stroke="#000" stroke-width="1.2"/>
<circle cx="315.32" cy="239.79" r="3.85" fill="#0000ff" stroke="#000" stroke-width="1.2"/>
<circle cx="321.20" cy="235.04" r="3.85" fill="#0000ff" stroke="#000" stroke-width="1.2"/>
<circle cx="327.08" cy="233.80" r="3.85" fill="#0000ff" stroke="#000" stroke-width="1.2"/>
<circle cx="332.97" cy="229.55" r="3.85" fill="#0000ff" stroke="#000" stroke-width="1.2"/>
<circle cx="338.85" cy="226.05" r="3.85" fill="#0000ff" stroke="#000" stroke-width="1.2"/>
<circle cx="344.73" cy="218.31" r="3.85" fill="#0000ff" stroke="#000" stroke-width="1.2"/>
<circle cx="350.62" cy="212.82" r="3.85" fill="#0000ff" stroke="#000" stroke-width="1.2"/>
<circle cx="356.50" cy="206.82" r="3.85" fill="#0000ff" stroke="#000" stroke-width="1.2"/>
<circle cx="362.38" cy="201.83" r="3.85" fill="#0000ff" stroke="#000" stroke-width="1.2"/>
<circle cx="368.27" cy="195.33" r="3.85" fill="#0000ff" stroke="#000" stroke-width="1.2"/>
<circle cx="374.15" cy="189.84" r="3.85" fill="#0000ff" stroke="#000" stroke-width="1.2"/>
<circle cx="380.03" cy="181.60" r="3.85" fill="#0000ff" stroke="#000" stroke-width="1.2"/>
<circle cx="385.92" cy="177.35" r="3.85" fill="#0000ff" stroke="#000" stroke-width="1.2"/>
<circle cx="391.80" cy="171.86" r="3.85" fill="#0000ff" stroke="#000" stroke-width="1.2"/>
<circle cx="397.68" cy="166.86" r="3.85" fill="#0000ff" stroke="#000" stroke-width="1.2"/>
<circle cx="403.57" cy="158.62" r="3.85" fill="#0000ff" stroke="#000" stroke-width="1.2"/>
<circle cx="409.45" cy="160.37" r="3.85" fill="#0000ff" stroke="#000" stroke-width="1.2"/>
<circle cx="415.33" cy="151.63" r="3.85" fill="#0000ff" stroke="#000" stroke-width="1.2"/>
<circle cx="421.22" cy="147.38" r="3.85" fill="#0000ff" stroke="#000" stroke-width="1.2"/>
<circle cx="427.10" cy="144.89" r="3.85" fill="#0000ff" stroke="#000" stroke-width="1.2"/>
<circle cx="432.98" cy="142.89" r="3.85" fill="#0000ff" stroke="#000" stroke-width="1.2"/>
<circle cx="438.87" cy="137.39" r="3.85" fill="#0000ff" stroke="#000" stroke-width="1.2"/>
<circle cx="444.75" cy="134.90" r="3.85" fill="#0000ff" stroke="#000" stroke-width="1.2"/>
<circle cx="450.63" cy="131.15" r="3.85" fill="#0000ff" stroke="#000" stroke-width="1.2"/>
<circle cx="456.52" cy="130.65" r="3.85" fill="#0000ff" stroke="#000" stroke-width="1.2"/>
<circle cx="462.40" cy="131.15" r="3.85" fill="#0000ff" stroke="#000" stroke-width="1.2"/>
<circle cx="109.40" cy="455.81" r="3.85" fill="#ffa500" stroke="#ff0000" stroke-width="1.2"/>
<circle cx="115.28" cy="453.31" r="3.85" fill="#ffa500" stroke="#ff0000" stroke-width="1.2"/>
<circle cx="121.17" cy="451.07" r="3.85" fill="#ffa500" stroke="#ff0000" stroke-width="1.2"/>
<circle cx="127.05" cy="450.32" r="3.85" fill="#ffa500" stroke="#ff0000" stroke-width="1.2"/>
<circle cx="132.93" cy="444.07" r="3.85" fill="#ffa500" stroke="#ff0000" stroke-width="1.2"/>
<circle cx="138.82" cy="437.33" r="3.85" fill="#ffa500" stroke="#ff0000" stroke-width="1.2"/>
<circle cx="144.70" cy="432.09" r="3.85" fill="#ffa500" stroke="#ff0000" stroke-width="1.2"/>
<circle cx="150.58" cy="424.59" r="3.85" fill="#ffa500" stroke="#ff0000" stroke-width="1.2"/>
<circle cx="156.47" cy="417.85" r="3.85" fill="#ffa500" stroke="#ff0000" stroke-width="1.2"/>
<circle cx="162.35" cy="409.61" r="3.85" fill="#ffa500" stroke="#ff0000" stroke-width="1.2"/>
<circle cx="168.23" cy="400.37" r="3.85" fill="#ffa500" stroke="#ff0000" stroke-width="1.2"/>
<circle cx="174.12" cy="394.12" r="3.85" fill="#ffa500" stroke="#ff0000" stroke-width="1.2"/>
<circle cx="180.00" cy="387.38" r="3.85" fill="#ffa500" stroke="#ff0000" stroke-width="1.2"/>
<circle cx="185.88" cy="377.39" r="3.85" fill="#ffa500" stroke="#ff0000" stroke-width="1.2"/>
<circle cx="191.77" cy="369.15" r="3.85" fill="#ffa500" stroke="#ff0000" stroke-width="1.2"/>
<circle cx="197.65" cy="360.91" r="3.85" fill="#ffa500" stroke="#ff0000" stroke-width="1.2"/>
<circle cx="203.53" cy="352.92" r="3.85" fill="#ffa500" stroke="#ff0000" stroke-width="1.2"/>
<circle cx="209.42" cy="345.42" r="3.85" fill="#ffa500" stroke="#ff0000" stroke-width="1.2"/>
<circle cx="215.30" cy="336.68" r="3.85" fill="#ffa500" stroke="#ff0000" stroke-width="1.2"/>
<circle cx="221.18" cy="328.69" r="3.85" fill="#ffa500" stroke="#ff0000" stroke-width="1.2"/>
<circle cx="227.07" cy="320.47" r="3.85" fill="#ffa500" stroke="#ff0000" stroke-width="1.2"/>
<circle cx="232.95" cy="313.42" r="3.85" fill="#ffa500" stroke="#ff0000" stroke-width="1.2"/>
<circle cx="238.83" cy="306.84" r="3.85" fill="#ffa500" stroke="#ff0000" stroke-width="1.2"/>
<circle cx="244.72" cy="300.11" r="3.85" fill="#ffa500" stroke="#ff0000" stroke-width="1.2"/>
<circle cx="250.60" cy="294.62" r="3.85" fill="#ffa500" stroke="#ff0000" stroke-width="1.2"/>
<circle cx="256.48" cy="289.93" r="3.85" fill="#ffa500" stroke="#ff0000" stroke-width="1.2"/>
<circle cx="262.37" cy="286.01" r="3.85" fill="#ffa500" stroke="#ff0000" stroke-width="1.2"/>
<circle cx="268.25" cy="283.04" r="3.85" fill="#ffa500" stroke="#ff0000" stroke-width="1.2"/>
<circle cx="274.13" cy="281.16" r="3.85" fill="#ffa500" stroke="#ff0000" stroke-width="1.2"/>
<circle cx="280.02" cy="280.06" r="3.85" fill="#ffa500" stroke="#ff0000" stroke-width="1.2"/>
<circle cx="285.90" cy="279.59" r="3.85" fill="#ffa500" stroke="#ff0000" stroke-width="1.2"/>
<circle cx="291.78" cy="280.06" r="3.85" fill="#ffa500" stroke="#ff0000" stroke-width="1.2"/>
<circle cx="297.67" cy="281.31" r="3.85" fill="#ffa500" stroke="#ff0000" stroke-width="1.2"/>
<circle cx="303.55" cy="283.35" r="3.85" fill="#ffa500" stroke="#ff0000" stroke-width="1.2"/>
<circle cx="309.43" cy="286.48" r="3.85" fill="#ffa500" stroke="#ff0000" stroke-width="1.2"/>
<circle cx="315.32" cy="290.24" r="3.85" fill="#ffa500" stroke="#ff0000" stroke-width="1.2"/>
<circle cx="321.20" cy="294.94" r="3.85" fill="#ffa500" stroke="#ff0000" stroke-width="1.2"/>
<circle cx="327.08" cy="300.11" r="3.85" fill="#ffa500" stroke="#ff0000" stroke-width="1.2"/>
<circle cx="332.97" cy="305.59" r="3.85" fill="#ffa500" stroke="#ff0000" stroke-width="1.2"/>
<circle cx="338.85" cy="311.85" r="3.85" fill="#ffa500" stroke="#ff0000" stroke-width="1.2"/>
<circle cx="344.73" cy="318.12" r="3.85" fill="#ffa500" stroke="#ff0000" stroke-width="1.2"/>
<circle cx="350.62" cy="325.88" r="3.85" fill="#ffa500" stroke="#ff0000" stroke-width="1.2"/>
<circle cx="356.50" cy="333.37" r="3.85" fill="#ffa500" stroke="#ff0000" stroke-width="1.2"/>
<circle cx="362.38" cy="341.61" r="3.85" fill="#ffa500" stroke="#ff0000" stroke-width="1.2"/>
<circle cx="368.27" cy="349.29" r="3.85" fill="#ffa500" stroke="#ff0000" stroke-width="1.2"/>
<circle cx="374.15" cy="359.59" r="3.85" fill="#ffa500" stroke="#ff0000" stroke-width="1.2"/>
<circle cx="380.03" cy="364.09" r="3.85" fill="#ffa500" stroke="#ff0000" stroke-width="1.2"/>
<circle cx="385.92" cy="373.64" r="3.85" fill="#ffa500" stroke="#ff0000" stroke-width="1.2"/>
<circle cx="391.80" cy="380.20" r="3.85" fill="#ffa500" stroke="#ff0000" stroke-width="1.2"/>
<circle cx="397.68" cy="389.56" r="3.85" fill="#ffa500" stroke="#ff0000" stroke-width="1.2"/>
<circle cx="403.57" cy="396.87" r="3.85" fill="#ffa500" stroke="#ff0000" stroke-width="1.2"/>
<circle cx="409.45" cy="404.55" r="3.85" fill="#ffa500" stroke="#ff0000" stroke-width="1.2"/>
<circle cx="415.33" cy="412.97" r="3.85" fill="#ffa500" stroke="#ff0000" stroke-width="1.2"/>
<circle cx="421.22" cy="419.90" r="3.85" fill="#ffa500" stroke="#ff0000" stroke-width="1.2"/>
<circle cx="427.10" cy="426.46" r="3.85" fill="#ffa500" stroke="#ff0000" stroke-width="1.2"/>
<circle cx="432.98" cy="433.02" r="3.85" fill="#ffa500" stroke="#ff0000" stroke-width="1.2"/>
<circle cx="438.87" cy="440.51" r="3.85" fill="#ffa500" stroke="#ff0000" stroke-width="1.2"/>
<circle cx="444.75" cy="444.63" r="3.85" fill="#ffa500" stroke="#ff0000" stroke-width="1.2"/>
<circle cx="450.63" cy="449.87" r="3.85" fill="#ffa500" stroke="#ff0000" stroke-width="1.2"/>
<circle cx="456.52" cy="452.68" r="3.85" fill="#ffa500" stroke="#ff0000" stroke-width="1.2"/>
<circle cx="462.40" cy="454.56" r="3.85" fill="#ffa500" stroke="#ff0000" stroke-width="1.2"/>
<circle cx="109.40" cy="468.30" r="3.85" fill="#464646" stroke="#000" stroke-width="1.2"/>
<circle cx="115.28" cy="467.05" r="3.85" fill="#464646" stroke="#000" stroke-width="1.2"/>
<circle cx="121.17" cy="465.30" r="3.85" fill="#464646" stroke="#000" stroke-width="1.2"/>
<circle cx="127.05" cy="460.81" r="3.85" fill="#464646" stroke="#000" stroke-width="1.2"/>
<circle cx="132.93" cy="457.06" r="3.85" fill="#464646" stroke="#000" stroke-width="1.2"/>
<circle cx="138.82" cy="451.57" r="3.85" fill="#464646" stroke="#000" stroke-width="1.2"/>
<circle cx="144.70" cy="446.07" r="3.85" fill="#464646" stroke="#000" stroke-width="1.2"/>
<circle cx="150.58" cy="439.83" r="3.85" fill="#464646" stroke="#000" stroke-width="1.2"/>
<circle cx="156.47" cy="431.59" r="3.85" fill="#464646" stroke="#000" stroke-width="1.2"/>
<circle cx="162.35" cy="424.59" r="3.85" fill="#464646" stroke="#000" stroke-width="1.2"/>
<circle cx="168.23" cy="413.35" r="3.85" fill="#464646" stroke="#000" stroke-width="1.2"/>
<circle cx="174.12" cy="404.86" r="3.85" fill="#464646" stroke="#000" stroke-width="1.2"/>
<circle cx="180.00" cy="394.62" r="3.85" fill="#464646" stroke="#000" stroke-width="1.2"/>
<circle cx="185.88" cy="384.63" r="3.85" fill="#464646" stroke="#000" stroke-width="1.2"/>
<circle cx="191.77" cy="376.64" r="3.85" fill="#464646" stroke="#000" stroke-width="1.2"/>
<circle cx="197.65" cy="367.90" r="3.85" fill="#464646" stroke="#000" stroke-width="1.2"/>
<circle cx="203.53" cy="356.16" r="3.85" fill="#464646" stroke="#000" stroke-width="1.2"/>
<circle cx="209.42" cy="348.42" r="3.85" fill="#464646" stroke="#000" stroke-width="1.2"/>
<circle cx="215.30" cy="339.18" r="3.85" fill="#464646" stroke="#000" stroke-width="1.2"/>
<circle cx="221.18" cy="332.44" r="3.85" fill="#464646" stroke="#000" stroke-width="1.2"/>
<circle cx="227.07" cy="322.50" r="3.85" fill="#464646" stroke="#000" stroke-width="1.2"/>
<circle cx="232.95" cy="314.52" r="3.85" fill="#464646" stroke="#000" stroke-width="1.2"/>
<circle cx="238.83" cy="307.15" r="3.85" fill="#464646" stroke="#000" stroke-width="1.2"/>
<circle cx="244.72" cy="300.58" r="3.85" fill="#464646" stroke="#000" stroke-width="1.2"/>
<circle cx="250.60" cy="295.41" r="3.85" fill="#464646" stroke="#000" stroke-width="1.2"/>
<circle cx="256.48" cy="289.93" r="3.85" fill="#464646" stroke="#000" stroke-width="1.2"/>
<circle cx="262.37" cy="286.01" r="3.85" fill="#464646" stroke="#000" stroke-width="1.2"/>
<circle cx="268.25" cy="283.04" r="3.85" fill="#464646" stroke="#000" stroke-width="1.2"/>
<circle cx="274.13" cy="281.16" r="3.85" fill="#464646" stroke="#000" stroke-width="1.2"/>
<circle cx="280.02" cy="279.90" r="3.85" fill="#464646" stroke="#000" stroke-width="1.2"/>
<circle cx="285.90" cy="279.43" r="3.85" fill="#464646" stroke="#000" stroke-width="1.2"/>
<circle cx="291.78" cy="279.90" r="3.85" fill="#464646" stroke="#000" stroke-width="1.2"/>
<circle cx="297.67" cy="281.16" r="3.85" fill="#464646" stroke="#000" stroke-width="1.2"/>
<circle cx="303.55" cy="283.66" r="3.85" fill="#464646" stroke="#000" stroke-width="1.2"/>
<circle cx="309.43" cy="287.11" r="3.85" fill="#464646" stroke="#000" stroke-width="1.2"/>
<circle cx="315.32" cy="291.18" r="3.85" fill="#464646" stroke="#000" stroke-width="1.2"/>
<circle cx="321.20" cy="296.97" r="3.85" fill="#464646" stroke="#000" stroke-width="1.2"/>
<circle cx="327.08" cy="303.24" r="3.85" fill="#464646" stroke="#000" stroke-width="1.2"/>
<circle cx="332.97" cy="309.50" r="3.85" fill="#464646" stroke="#000" stroke-width="1.2"/>
<circle cx="338.85" cy="316.86" r="3.85" fill="#464646" stroke="#000" stroke-width="1.2"/>
<circle cx="344.73" cy="324.70" r="3.85" fill="#464646" stroke="#000" stroke-width="1.2"/>
<circle cx="350.62" cy="331.87" r="3.85" fill="#464646" stroke="#000" stroke-width="1.2"/>
<circle cx="356.50" cy="340.86" r="3.85" fill="#464646" stroke="#000" stroke-width="1.2"/>
<circle cx="362.38" cy="350.23" r="3.85" fill="#464646" stroke="#000" stroke-width="1.2"/>
<circle cx="368.27" cy="359.97" r="3.85" fill="#464646" stroke="#000" stroke-width="1.2"/>
<circle cx="374.15" cy="370.27" r="3.85" fill="#464646" stroke="#000" stroke-width="1.2"/>
<circle cx="380.03" cy="380.57" r="3.85" fill="#464646" stroke="#000" stroke-width="1.2"/>
<circle cx="385.92" cy="390.87" r="3.85" fill="#464646" stroke="#000" stroke-width="1.2"/>
<circle cx="391.80" cy="400.24" r="3.85" fill="#464646" stroke="#000" stroke-width="1.2"/>
<circle cx="397.68" cy="410.54" r="3.85" fill="#464646" stroke="#000" stroke-width="1.2"/>
<circle cx="403.57" cy="418.97" r="3.85" fill="#464646" stroke="#000" stroke-width="1.2"/>
<circle cx="409.45" cy="426.46" r="3.85" fill="#464646" stroke="#000" stroke-width="1.2"/>
<circle cx="415.33" cy="435.45" r="3.85" fill="#464646" stroke="#000" stroke-width="1.2"/>
<circle cx="421.22" cy="442.38" r="3.85" fill="#464646" stroke="#000" stroke-width="1.2"/>
<circle cx="427.10" cy="446.13" r="3.85" fill="#464646" stroke="#000" stroke-width="1.2"/>
<circle cx="432.98" cy="452.68" r="3.85" fill="#464646" stroke="#000" stroke-width="1.2"/>
<circle cx="438.87" cy="457.93" r="3.85" fill="#464646" stroke="#000" stroke-width="1.2"/>
<circle cx="444.75" cy="460.55" r="3.85" fill="#464646" stroke="#000" stroke-width="1.2"/>
<circle cx="450.63" cy="464.48" r="3.85" fill="#464646" stroke="#000" stroke-width="1.2"/>
<circle cx="456.52" cy="467.29" r="3.85" fill="#464646" stroke="#000" stroke-width="1.2"/>
<circle cx="462.40" cy="468.04" r="3.85" fill="#464646" stroke="#000" stroke-width="1.2"/>
<circle cx="109.40" cy="482.29" r="3.85" fill="#bebebe" stroke="#000" stroke-width="1.2"/>
<circle cx="115.28" cy="481.54" r="3.85" fill="#bebebe" stroke="#000" stroke-width="1.2"/>
<circle cx="121.17" cy="480.79" r="3.85" fill="#bebebe" stroke="#000" stroke-width="1.2"/>
<circle cx="127.05" cy="477.79" r="3.85" fill="#bebebe" stroke="#000" stroke-width="1.2"/>
<circle cx="132.93" cy="475.29" r="3.85" fill="#bebebe" stroke="#000" stroke-width="1.2"/>
<circle cx="138.82" cy="469.80" r="3.85" fill="#bebebe" stroke="#000" stroke-width="1.2"/>
<circle cx="144.70" cy="464.05" r="3.85" fill="#bebebe" stroke="#000" stroke-width="1.2"/>
<circle cx="150.58" cy="456.56" r="3.85" fill="#bebebe" stroke="#000" stroke-width="1.2"/>
<circle cx="156.47" cy="449.07" r="3.85" fill="#bebebe" stroke="#000" stroke-width="1.2"/>
<circle cx="162.35" cy="441.08" r="3.85" fill="#bebebe" stroke="#000" stroke-width="1.2"/>
<circle cx="168.23" cy="432.34" r="3.85" fill="#bebebe" stroke="#000" stroke-width="1.2"/>
<circle cx="174.12" cy="420.35" r="3.85" fill="#bebebe" stroke="#000" stroke-width="1.2"/>
<circle cx="180.00" cy="411.61" r="3.85" fill="#bebebe" stroke="#000" stroke-width="1.2"/>
<circle cx="185.88" cy="402.12" r="3.85" fill="#bebebe" stroke="#000" stroke-width="1.2"/>
<circle cx="191.77" cy="390.88" r="3.85" fill="#bebebe" stroke="#000" stroke-width="1.2"/>
<circle cx="197.65" cy="381.64" r="3.85" fill="#bebebe" stroke="#000" stroke-width="1.2"/>
<circle cx="203.53" cy="370.40" r="3.85" fill="#bebebe" stroke="#000" stroke-width="1.2"/>
<circle cx="209.42" cy="361.66" r="3.85" fill="#bebebe" stroke="#000" stroke-width="1.2"/>
<circle cx="215.30" cy="349.17" r="3.85" fill="#bebebe" stroke="#000" stroke-width="1.2"/>
<circle cx="221.18" cy="340.43" r="3.85" fill="#bebebe" stroke="#000" stroke-width="1.2"/>
<circle cx="227.07" cy="326.73" r="3.85" fill="#bebebe" stroke="#000" stroke-width="1.2"/>
<circle cx="232.95" cy="317.80" r="3.85" fill="#bebebe" stroke="#000" stroke-width="1.2"/>
<circle cx="238.83" cy="309.97" r="3.85" fill="#bebebe" stroke="#000" stroke-width="1.2"/>
<circle cx="244.72" cy="302.77" r="3.85" fill="#bebebe" stroke="#000" stroke-width="1.2"/>
<circle cx="250.60" cy="296.50" r="3.85" fill="#bebebe" stroke="#000" stroke-width="1.2"/>
<circle cx="256.48" cy="291.49" r="3.85" fill="#bebebe" stroke="#000" stroke-width="1.2"/>
<circle cx="262.37" cy="287.11" r="3.85" fill="#bebebe" stroke="#000" stroke-width="1.2"/>
<circle cx="268.25" cy="283.66" r="3.85" fill="#bebebe" stroke="#000" stroke-width="1.2"/>
<circle cx="274.13" cy="281.31" r="3.85" fill="#bebebe" stroke="#000" stroke-width="1.2"/>
<circle cx="280.02" cy="279.90" r="3.85" fill="#bebebe" stroke="#000" stroke-width="1.2"/>
<circle cx="285.90" cy="279.28" r="3.85" fill="#bebebe" stroke="#000" stroke-width="1.2"/>
<circle cx="291.78" cy="278.65" r="3.85" fill="#bebebe" stroke="#000" stroke-width="1.2"/>
<circle cx="297.67" cy="278.96" r="3.85" fill="#bebebe" stroke="#000" stroke-width="1.2"/>
<circle cx="303.55" cy="281.31" r="3.85" fill="#bebebe" stroke="#000" stroke-width="1.2"/>
<circle cx="309.43" cy="284.91" r="3.85" fill="#bebebe" stroke="#000" stroke-width="1.2"/>
<circle cx="315.32" cy="288.36" r="3.85" fill="#bebebe" stroke="#000" stroke-width="1.2"/>
<circle cx="321.20" cy="294.62" r="3.85" fill="#bebebe" stroke="#000" stroke-width="1.2"/>
<circle cx="327.08" cy="301.36" r="3.85" fill="#bebebe" stroke="#000" stroke-width="1.2"/>
<circle cx="332.97" cy="307.15" r="3.85" fill="#bebebe" stroke="#000" stroke-width="1.2"/>
<circle cx="338.85" cy="314.99" r="3.85" fill="#bebebe" stroke="#000" stroke-width="1.2"/>
<circle cx="344.73" cy="322.82" r="3.85" fill="#bebebe" stroke="#000" stroke-width="1.2"/>
<circle cx="350.62" cy="334.12" r="3.85" fill="#bebebe" stroke="#000" stroke-width="1.2"/>
<circle cx="356.50" cy="343.49" r="3.85" fill="#bebebe" stroke="#000" stroke-width="1.2"/>
<circle cx="362.38" cy="353.97" r="3.85" fill="#bebebe" stroke="#000" stroke-width="1.2"/>
<circle cx="368.27" cy="363.71" r="3.85" fill="#bebebe" stroke="#000" stroke-width="1.2"/>
<circle cx="374.15" cy="372.70" r="3.85" fill="#bebebe" stroke="#000" stroke-width="1.2"/>
<circle cx="380.03" cy="383.38" r="3.85" fill="#bebebe" stroke="#000" stroke-width="1.2"/>
<circle cx="385.92" cy="394.24" r="3.85" fill="#bebebe" stroke="#000" stroke-width="1.2"/>
<circle cx="391.80" cy="403.98" r="3.85" fill="#bebebe" stroke="#000" stroke-width="1.2"/>
<circle cx="397.68" cy="414.29" r="3.85" fill="#bebebe" stroke="#000" stroke-width="1.2"/>
<circle cx="403.57" cy="423.65" r="3.85" fill="#bebebe" stroke="#000" stroke-width="1.2"/>
<circle cx="409.45" cy="434.89" r="3.85" fill="#bebebe" stroke="#000" stroke-width="1.2"/>
<circle cx="415.33" cy="442.38" r="3.85" fill="#bebebe" stroke="#000" stroke-width="1.2"/>
<circle cx="421.22" cy="452.68" r="3.85" fill="#bebebe" stroke="#000" stroke-width="1.2"/>
<circle cx="427.10" cy="459.24" r="3.85" fill="#bebebe" stroke="#000" stroke-width="1.2"/>
<circle cx="432.98" cy="465.23" r="3.85" fill="#bebebe" stroke="#000" stroke-width="1.2"/>
<circle cx="438.87" cy="470.10" r="3.85" fill="#bebebe" stroke="#000" stroke-width="1.2"/>
<circle cx="444.75" cy="475.72" r="3.85" fill="#bebebe" stroke="#000" stroke-width="1.2"/>
<circle cx="450.63" cy="478.90" r="3.85" fill="#bebebe" stroke="#000" stroke-width="1.2"/>
<circle cx="456.52" cy="480.40" r="3.85" fill="#bebebe" stroke="#000" stroke-width="1.2"/>
<circle cx="462.40" cy="480.40" r="3.85" fill="#bebebe" stroke="#000" stroke-width="1.2"/>
<circle cx="109.40" cy="501.52" r="3.85" fill="#ff0000" stroke="#000" stroke-width="1.2"/>
<circle cx="115.28" cy="500.27" r="3.85" fill="#ff0000" stroke="#000" stroke-width="1.2"/>
<circle cx="121.17" cy="498.27" r="3.85" fill="#ff0000" stroke="#000" stroke-width="1.2"/>
<circle cx="127.05" cy="494.52" r="3.85" fill="#ff0000" stroke="#000" stroke-width="1.2"/>
<circle cx="132.93" cy="489.03" r="3.85" fill="#ff0000" stroke="#000" stroke-width="1.2"/>
<circle cx="138.82" cy="483.28" r="3.85" fill="#ff0000" stroke="#000" stroke-width="1.2"/>
<circle cx="144.70" cy="475.29" r="3.85" fill="#ff0000" stroke="#000" stroke-width="1.2"/>
<circle cx="150.58" cy="468.30" r="3.85" fill="#ff0000" stroke="#000" stroke-width="1.2"/>
<circle cx="156.47" cy="459.56" r="3.85" fill="#ff0000" stroke="#000" stroke-width="1.2"/>
<circle cx="162.35" cy="452.32" r="3.85" fill="#ff0000" stroke="#000" stroke-width="1.2"/>
<circle cx="168.23" cy="440.83" r="3.85" fill="#ff0000" stroke="#000" stroke-width="1.2"/>
<circle cx="174.12" cy="429.84" r="3.85" fill="#ff0000" stroke="#000" stroke-width="1.2"/>
<circle cx="180.00" cy="418.35" r="3.85" fill="#ff0000" stroke="#000" stroke-width="1.2"/>
<circle cx="185.88" cy="407.36" r="3.85" fill="#ff0000" stroke="#000" stroke-width="1.2"/>
<circle cx="191.77" cy="395.87" r="3.85" fill="#ff0000" stroke="#000" stroke-width="1.2"/>
<circle cx="197.65" cy="385.38" r="3.85" fill="#ff0000" stroke="#000" stroke-width="1.2"/>
<circle cx="203.53" cy="375.39" r="3.85" fill="#ff0000" stroke="#000" stroke-width="1.2"/>
<circle cx="209.42" cy="361.66" r="3.85" fill="#ff0000" stroke="#000" stroke-width="1.2"/>
<circle cx="215.30" cy="352.92" r="3.85" fill="#ff0000" stroke="#000" stroke-width="1.2"/>
<circle cx="221.18" cy="341.18" r="3.85" fill="#ff0000" stroke="#000" stroke-width="1.2"/>
<circle cx="227.07" cy="331.12" r="3.85" fill="#ff0000" stroke="#000" stroke-width="1.2"/>
<circle cx="232.95" cy="322.35" r="3.85" fill="#ff0000" stroke="#000" stroke-width="1.2"/>
<circle cx="238.83" cy="313.73" r="3.85" fill="#ff0000" stroke="#000" stroke-width="1.2"/>
<circle cx="244.72" cy="306.06" r="3.85" fill="#ff0000" stroke="#000" stroke-width="1.2"/>
<circle cx="250.60" cy="299.01" r="3.85" fill="#ff0000" stroke="#000" stroke-width="1.2"/>
<circle cx="256.48" cy="293.84" r="3.85" fill="#ff0000" stroke="#000" stroke-width="1.2"/>
<circle cx="262.37" cy="289.61" r="3.85" fill="#ff0000" stroke="#000" stroke-width="1.2"/>
<circle cx="268.25" cy="284.91" r="3.85" fill="#ff0000" stroke="#000" stroke-width="1.2"/>
<circle cx="274.13" cy="282.41" r="3.85" fill="#ff0000" stroke="#000" stroke-width="1.2"/>
<circle cx="280.02" cy="280.53" r="3.85" fill="#ff0000" stroke="#000" stroke-width="1.2"/>
<circle cx="285.90" cy="279.75" r="3.85" fill="#ff0000" stroke="#000" stroke-width="1.2"/>
<circle cx="291.78" cy="280.53" r="3.85" fill="#ff0000" stroke="#000" stroke-width="1.2"/>
<circle cx="297.67" cy="283.19" r="3.85" fill="#ff0000" stroke="#000" stroke-width="1.2"/>
<circle cx="303.55" cy="286.01" r="3.85" fill="#ff0000" stroke="#000" stroke-width="1.2"/>
<circle cx="309.43" cy="291.49" r="3.85" fill="#ff0000" stroke="#000" stroke-width="1.2"/>
<circle cx="315.32" cy="294.31" r="3.85" fill="#ff0000" stroke="#000" stroke-width="1.2"/>
<circle cx="321.20" cy="300.89" r="3.85" fill="#ff0000" stroke="#000" stroke-width="1.2"/>
<circle cx="327.08" cy="309.50" r="3.85" fill="#ff0000" stroke="#000" stroke-width="1.2"/>
<circle cx="332.97" cy="316.24" r="3.85" fill="#ff0000" stroke="#000" stroke-width="1.2"/>
<circle cx="338.85" cy="323.60" r="3.85" fill="#ff0000" stroke="#000" stroke-width="1.2"/>
<circle cx="344.73" cy="336.13" r="3.85" fill="#ff0000" stroke="#000" stroke-width="1.2"/>
<circle cx="350.62" cy="344.05" r="3.85" fill="#ff0000" stroke="#000" stroke-width="1.2"/>
<circle cx="356.50" cy="355.29" r="3.85" fill="#ff0000" stroke="#000" stroke-width="1.2"/>
<circle cx="362.38" cy="365.59" r="3.85" fill="#ff0000" stroke="#000" stroke-width="1.2"/>
<circle cx="368.27" cy="378.70" r="3.85" fill="#ff0000" stroke="#000" stroke-width="1.2"/>
<circle cx="374.15" cy="389.56" r="3.85" fill="#ff0000" stroke="#000" stroke-width="1.2"/>
<circle cx="380.03" cy="400.80" r="3.85" fill="#ff0000" stroke="#000" stroke-width="1.2"/>
<circle cx="385.92" cy="412.41" r="3.85" fill="#ff0000" stroke="#000" stroke-width="1.2"/>
<circle cx="391.80" cy="423.65" r="3.85" fill="#ff0000" stroke="#000" stroke-width="1.2"/>
<circle cx="397.68" cy="433.58" r="3.85" fill="#ff0000" stroke="#000" stroke-width="1.2"/>
<circle cx="403.57" cy="444.25" r="3.85" fill="#ff0000" stroke="#000" stroke-width="1.2"/>
<circle cx="409.45" cy="455.12" r="3.85" fill="#ff0000" stroke="#000" stroke-width="1.2"/>
<circle cx="415.33" cy="464.48" r="3.85" fill="#ff0000" stroke="#000" stroke-width="1.2"/>
<circle cx="421.22" cy="468.60" r="3.85" fill="#ff0000" stroke="#000" stroke-width="1.2"/>
<circle cx="427.10" cy="475.16" r="3.85" fill="#ff0000" stroke="#000" stroke-width="1.2"/>
<circle cx="432.98" cy="482.65" r="3.85" fill="#ff0000" stroke="#000" stroke-width="1.2"/>
<circle cx="438.87" cy="487.89" r="3.85" fill="#ff0000" stroke="#000" stroke-width="1.2"/>
<circle cx="444.75" cy="492.02" r="3.85" fill="#ff0000" stroke="#000" stroke-width="1.2"/>
<circle cx="450.63" cy="495.76" r="3.85" fill="#ff0000" stroke="#000" stroke-width="1.2"/>
<circle cx="456.52" cy="499.51" r="3.85" fill="#ff0000" stroke="#000" stroke-width="1.2"/>
<circle cx="462.40" cy="499.13" r="3.85" fill="#ff0000" stroke="#000" stroke-width="1.2"/>
<circle cx="251.80" cy="107.60" r="4.05" fill="#008b00" stroke="#000" stroke-width="1.1"/>
<text x="275.40" y="116.60" font-size="24.7" text-anchor="start" fill="#000" font-style="normal" >0.5 T</text>
<circle cx="251.80" cy="138.30" r="4.05" fill="#464646" stroke="#000" stroke-width="1.1"/>
<text x="275.40" y="147.30" font-size="24.7" text-anchor="start" fill="#000" font-style="normal" >2 T</text>
<circle cx="251.80" cy="168.60" r="4.05" fill="#bebebe" stroke="#000" stroke-width="1.1"/>
<text x="275.40" y="177.60" font-size="24.7" text-anchor="start" fill="#000" font-style="normal" >3.5 T</text>
<circle cx="251.80" cy="199.30" r="4.05" fill="#0000ff" stroke="#000" stroke-width="1.1"/>
<text x="275.40" y="208.30" font-size="24.7" text-anchor="start" fill="#000" font-style="normal" >5 T</text>
<circle cx="251.80" cy="358.40" r="4.05" fill="#ffa500" stroke="#ff0000" stroke-width="1.1"/>
<text x="275.40" y="367.40" font-size="24.7" text-anchor="start" fill="#000" font-style="normal" >0.5 T</text>
<circle cx="251.80" cy="389.00" r="4.05" fill="#464646" stroke="#000" stroke-width="1.1"/>
<text x="275.40" y="398.00" font-size="24.7" text-anchor="start" fill="#000" font-style="normal" >2 T</text>
<circle cx="251.80" cy="419.60" r="4.05" fill="#bebebe" stroke="#000" stroke-width="1.1"/>
<text x="275.40" y="428.60" font-size="24.7" text-anchor="start" fill="#000" font-style="normal" >3.5 T</text>
<circle cx="251.80" cy="450.20" r="4.05" fill="#ff0000" stroke="#000" stroke-width="1.1"/>
<text x="275.40" y="459.20" font-size="24.7" text-anchor="start" fill="#000" font-style="normal" >5 T</text>
<text x="279.40" y="69.30" font-size="29" text-anchor="middle" fill="#000" font-style="normal" >experiment</text>
<text x="643.20" y="70.00" font-size="29" text-anchor="middle" fill="#000" font-style="normal" >theory</text>
<text x="287.25" y="21.00" font-size="26.7" text-anchor="middle" fill="#000" font-style="normal" >[110]</text>
<text x="640.40" y="21.00" font-size="26.7" text-anchor="middle" fill="#000" font-style="normal" >[110]</text>
<text x="4.00" y="32.20" font-size="34" text-anchor="start" fill="#000" font-style="normal" >a)</text>
<text x="1.20" y="609.60" font-size="34" text-anchor="start" fill="#000" font-style="normal" >b)</text>
<text x="104.40" y="260.42" font-size="26.7" text-anchor="end" fill="#000" font-style="normal" >1</text>
<text x="104.40" y="172.53" font-size="26.7" text-anchor="end" fill="#000" font-style="normal" >1.001</text>
<text x="104.40" y="84.64" font-size="26.7" text-anchor="end" fill="#000" font-style="normal" >1.002</text>
<text x="104.40" y="289.08" font-size="26.7" text-anchor="end" fill="#000" font-style="normal" >1</text>
<text x="104.40" y="345.56" font-size="26.7" text-anchor="end" fill="#000" font-style="normal" >0.999</text>
<text x="104.40" y="402.04" font-size="26.7" text-anchor="end" fill="#000" font-style="normal" >0.998</text>
<text x="104.40" y="458.52" font-size="26.7" text-anchor="end" fill="#000" font-style="normal" >0.997</text>
<text x="104.40" y="515.00" font-size="26.7" text-anchor="end" fill="#000" font-style="normal" >0.996</text>
<text x="110.20" y="530.60" font-size="26.7" text-anchor="middle" fill="#000" font-style="normal" >−90</text>
<text x="169.03" y="530.60" font-size="26.7" text-anchor="middle" fill="#000" font-style="normal" >−60</text>
<text x="522.03" y="530.60" font-size="26.7" text-anchor="middle" fill="#000" font-style="normal" >−60</text>
<text x="227.87" y="530.60" font-size="26.7" text-anchor="middle" fill="#000" font-style="normal" >−30</text>
<text x="580.87" y="530.60" font-size="26.7" text-anchor="middle" fill="#000" font-style="normal" >−30</text>
<text x="286.20" y="530.60" font-size="26.7" text-anchor="middle" fill="#000" font-style="normal" >0</text>
<text x="639.20" y="530.60" font-size="26.7" text-anchor="middle" fill="#000" font-style="normal" >0</text>
<text x="345.03" y="530.60" font-size="26.7" text-anchor="middle" fill="#000" font-style="normal" >30</text>
<text x="698.03" y="530.60" font-size="26.7" text-anchor="middle" fill="#000" font-style="normal" >30</text>
<text x="403.87" y="530.60" font-size="26.7" text-anchor="middle" fill="#000" font-style="normal" >60</text>
<text x="756.87" y="530.60" font-size="26.7" text-anchor="middle" fill="#000" font-style="normal" >60</text>
<text x="462.70" y="530.60" font-size="26.7" text-anchor="middle" fill="#000" font-style="normal" >90</text>
<text x="815.70" y="530.60" font-size="26.7" text-anchor="middle" fill="#000" font-style="normal" >90</text>
<text x="248.70" y="561.40" font-size="36" text-anchor="start" fill="#000" font-style="italic" >ϕ</text>
<text x="277.20" y="563.00" font-size="35" text-anchor="start" fill="#000" font-style="normal" >[</text>
<text x="294.55" y="559.40" font-size="31" text-anchor="start" fill="#000" font-style="normal" >°</text>
<text x="314.70" y="563.00" font-size="35" text-anchor="start" fill="#000" font-style="normal" >]</text>
<text x="601.90" y="561.40" font-size="36" text-anchor="start" fill="#000" font-style="italic" >ϕ</text>
<text x="630.40" y="563.00" font-size="35" text-anchor="start" fill="#000" font-style="normal" >[</text>
<text x="647.75" y="559.40" font-size="31" text-anchor="start" fill="#000" font-style="normal" >°</text>
<text x="667.90" y="563.00" font-size="35" text-anchor="start" fill="#000" font-style="normal" >]</text>
<g transform="translate(28.3,205.6) rotate(-90)">
<text x="0" y="0" font-size="36" font-style="italic">R</text>
<text x="23.9" y="0" font-size="38">/</text>
<text x="37.3" y="0" font-size="36" font-style="italic">R</text>
<text x="59.0" y="4.6" font-size="23.5" textLength="54" lengthAdjust="spacingAndGlyphs">[110]</text>
</g>
<g transform="translate(28.3,442.0) rotate(-90)">
<text x="0" y="0" font-size="36" font-style="italic">R</text>
<text x="23.9" y="0" font-size="38">/</text>
<text x="37.3" y="0" font-size="36" font-style="italic">R</text>
<text x="59.0" y="4.6" font-size="23.5" textLength="54" lengthAdjust="spacingAndGlyphs">[110]</text>
</g>
<line x1="140.50" y1="593.00" x2="140.50" y2="597.20" stroke="#111" stroke-width="0.9"/>
<line x1="140.50" y1="897.70" x2="140.50" y2="893.50" stroke="#111" stroke-width="0.9"/>
<line x1="496.50" y1="593.00" x2="496.50" y2="597.20" stroke="#111" stroke-width="0.9"/>
<line x1="496.50" y1="897.70" x2="496.50" y2="893.50" stroke="#111" stroke-width="0.9"/>
<line x1="172.50" y1="593.00" x2="172.50" y2="601.70" stroke="#111" stroke-width="0.9"/>
<line x1="172.50" y1="897.70" x2="172.50" y2="889.00" stroke="#111" stroke-width="0.9"/>
<line x1="531.50" y1="593.00" x2="531.50" y2="601.70" stroke="#111" stroke-width="0.9"/>
<line x1="531.50" y1="897.70" x2="531.50" y2="889.00" stroke="#111" stroke-width="0.9"/>
<line x1="204.50" y1="593.00" x2="204.50" y2="597.20" stroke="#111" stroke-width="0.9"/>
<line x1="204.50" y1="897.70" x2="204.50" y2="893.50" stroke="#111" stroke-width="0.9"/>
<line x1="566.50" y1="593.00" x2="566.50" y2="597.20" stroke="#111" stroke-width="0.9"/>
<line x1="566.50" y1="897.70" x2="566.50" y2="893.50" stroke="#111" stroke-width="0.9"/>
<line x1="236.50" y1="593.00" x2="236.50" y2="601.70" stroke="#111" stroke-width="0.9"/>
<line x1="236.50" y1="897.70" x2="236.50" y2="889.00" stroke="#111" stroke-width="0.9"/>
<line x1="602.50" y1="593.00" x2="602.50" y2="601.70" stroke="#111" stroke-width="0.9"/>
<line x1="602.50" y1="897.70" x2="602.50" y2="889.00" stroke="#111" stroke-width="0.9"/>
<line x1="268.50" y1="593.00" x2="268.50" y2="597.20" stroke="#111" stroke-width="0.9"/>
<line x1="268.50" y1="897.70" x2="268.50" y2="893.50" stroke="#111" stroke-width="0.9"/>
<line x1="637.50" y1="593.00" x2="637.50" y2="597.20" stroke="#111" stroke-width="0.9"/>
<line x1="637.50" y1="897.70" x2="637.50" y2="893.50" stroke="#111" stroke-width="0.9"/>
<line x1="300.50" y1="593.00" x2="300.50" y2="601.70" stroke="#111" stroke-width="0.9"/>
<line x1="300.50" y1="897.70" x2="300.50" y2="889.00" stroke="#111" stroke-width="0.9"/>
<line x1="672.50" y1="593.00" x2="672.50" y2="601.70" stroke="#111" stroke-width="0.9"/>
<line x1="672.50" y1="897.70" x2="672.50" y2="889.00" stroke="#111" stroke-width="0.9"/>
<line x1="332.50" y1="593.00" x2="332.50" y2="597.20" stroke="#111" stroke-width="0.9"/>
<line x1="332.50" y1="897.70" x2="332.50" y2="893.50" stroke="#111" stroke-width="0.9"/>
<line x1="707.50" y1="593.00" x2="707.50" y2="597.20" stroke="#111" stroke-width="0.9"/>
<line x1="707.50" y1="897.70" x2="707.50" y2="893.50" stroke="#111" stroke-width="0.9"/>
<line x1="365.50" y1="593.00" x2="365.50" y2="601.70" stroke="#111" stroke-width="0.9"/>
<line x1="365.50" y1="897.70" x2="365.50" y2="889.00" stroke="#111" stroke-width="0.9"/>
<line x1="742.50" y1="593.00" x2="742.50" y2="601.70" stroke="#111" stroke-width="0.9"/>
<line x1="742.50" y1="897.70" x2="742.50" y2="889.00" stroke="#111" stroke-width="0.9"/>
<line x1="397.50" y1="593.00" x2="397.50" y2="597.20" stroke="#111" stroke-width="0.9"/>
<line x1="397.50" y1="897.70" x2="397.50" y2="893.50" stroke="#111" stroke-width="0.9"/>
<line x1="777.50" y1="593.00" x2="777.50" y2="597.20" stroke="#111" stroke-width="0.9"/>
<line x1="777.50" y1="897.70" x2="777.50" y2="893.50" stroke="#111" stroke-width="0.9"/>
<line x1="429.50" y1="593.00" x2="429.50" y2="601.70" stroke="#111" stroke-width="0.9"/>
<line x1="429.50" y1="897.70" x2="429.50" y2="889.00" stroke="#111" stroke-width="0.9"/>
<line x1="108.60" y1="892.50" x2="112.80" y2="892.50" stroke="#111" stroke-width="0.9"/>
<line x1="457.20" y1="892.50" x2="465.60" y2="892.50" stroke="#111" stroke-width="0.9"/>
<line x1="808.80" y1="892.50" x2="813.00" y2="892.50" stroke="#111" stroke-width="0.9"/>
<line x1="108.60" y1="868.50" x2="117.30" y2="868.50" stroke="#111" stroke-width="0.9"/>
<line x1="452.70" y1="868.50" x2="470.10" y2="868.50" stroke="#111" stroke-width="0.9"/>
<line x1="804.30" y1="868.50" x2="813.00" y2="868.50" stroke="#111" stroke-width="0.9"/>
<line x1="108.60" y1="843.50" x2="112.80" y2="843.50" stroke="#111" stroke-width="0.9"/>
<line x1="457.20" y1="843.50" x2="465.60" y2="843.50" stroke="#111" stroke-width="0.9"/>
<line x1="808.80" y1="843.50" x2="813.00" y2="843.50" stroke="#111" stroke-width="0.9"/>
<line x1="108.60" y1="818.50" x2="117.30" y2="818.50" stroke="#111" stroke-width="0.9"/>
<line x1="452.70" y1="818.50" x2="470.10" y2="818.50" stroke="#111" stroke-width="0.9"/>
<line x1="804.30" y1="818.50" x2="813.00" y2="818.50" stroke="#111" stroke-width="0.9"/>
<line x1="108.60" y1="793.50" x2="112.80" y2="793.50" stroke="#111" stroke-width="0.9"/>
<line x1="457.20" y1="793.50" x2="465.60" y2="793.50" stroke="#111" stroke-width="0.9"/>
<line x1="808.80" y1="793.50" x2="813.00" y2="793.50" stroke="#111" stroke-width="0.9"/>
<line x1="108.60" y1="768.50" x2="117.30" y2="768.50" stroke="#111" stroke-width="0.9"/>
<line x1="452.70" y1="768.50" x2="470.10" y2="768.50" stroke="#111" stroke-width="0.9"/>
<line x1="804.30" y1="768.50" x2="813.00" y2="768.50" stroke="#111" stroke-width="0.9"/>
<line x1="108.60" y1="743.50" x2="112.80" y2="743.50" stroke="#111" stroke-width="0.9"/>
<line x1="457.20" y1="743.50" x2="465.60" y2="743.50" stroke="#111" stroke-width="0.9"/>
<line x1="808.80" y1="743.50" x2="813.00" y2="743.50" stroke="#111" stroke-width="0.9"/>
<line x1="108.60" y1="718.50" x2="117.30" y2="718.50" stroke="#111" stroke-width="0.9"/>
<line x1="452.70" y1="718.50" x2="470.10" y2="718.50" stroke="#111" stroke-width="0.9"/>
<line x1="804.30" y1="718.50" x2="813.00" y2="718.50" stroke="#111" stroke-width="0.9"/>
<line x1="108.60" y1="694.50" x2="112.80" y2="694.50" stroke="#111" stroke-width="0.9"/>
<line x1="457.20" y1="694.50" x2="465.60" y2="694.50" stroke="#111" stroke-width="0.9"/>
<line x1="808.80" y1="694.50" x2="813.00" y2="694.50" stroke="#111" stroke-width="0.9"/>
<line x1="108.60" y1="669.50" x2="117.30" y2="669.50" stroke="#111" stroke-width="0.9"/>
<line x1="452.70" y1="669.50" x2="470.10" y2="669.50" stroke="#111" stroke-width="0.9"/>
<line x1="804.30" y1="669.50" x2="813.00" y2="669.50" stroke="#111" stroke-width="0.9"/>
<line x1="108.60" y1="644.50" x2="112.80" y2="644.50" stroke="#111" stroke-width="0.9"/>
<line x1="457.20" y1="644.50" x2="465.60" y2="644.50" stroke="#111" stroke-width="0.9"/>
<line x1="808.80" y1="644.50" x2="813.00" y2="644.50" stroke="#111" stroke-width="0.9"/>
<line x1="108.60" y1="619.50" x2="117.30" y2="619.50" stroke="#111" stroke-width="0.9"/>
<line x1="452.70" y1="619.50" x2="470.10" y2="619.50" stroke="#111" stroke-width="0.9"/>
<line x1="804.30" y1="619.50" x2="813.00" y2="619.50" stroke="#111" stroke-width="0.9"/>
<line x1="108.60" y1="594.50" x2="112.80" y2="594.50" stroke="#111" stroke-width="0.9"/>
<line x1="457.20" y1="594.50" x2="465.60" y2="594.50" stroke="#111" stroke-width="0.9"/>
<line x1="808.80" y1="594.50" x2="813.00" y2="594.50" stroke="#111" stroke-width="0.9"/>
<line x1="115.60" y1="621.50" x2="454.40" y2="655.40" stroke="#000" stroke-width="2.3"/>
<circle cx="140.65" cy="624.51" r="5.0" fill="#000"/>
<circle cx="172.70" cy="627.21" r="5.0" fill="#000"/>
<circle cx="204.75" cy="630.42" r="5.0" fill="#000"/>
<circle cx="236.80" cy="633.63" r="5.0" fill="#000"/>
<circle cx="268.85" cy="636.83" r="5.0" fill="#000"/>
<circle cx="300.90" cy="640.04" r="5.0" fill="#000"/>
<circle cx="332.95" cy="643.25" r="5.0" fill="#000"/>
<circle cx="365.00" cy="646.45" r="5.0" fill="#000"/>
<circle cx="397.05" cy="649.66" r="5.0" fill="#000"/>
<circle cx="429.10" cy="652.87" r="5.0" fill="#000"/>
<line x1="115.60" y1="638.20" x2="454.40" y2="677.30" stroke="#0000ff" stroke-width="2.3"/>
<circle cx="140.65" cy="641.09" r="5.0" fill="#0000ff"/>
<circle cx="172.70" cy="644.79" r="5.0" fill="#0000ff"/>
<circle cx="204.75" cy="648.49" r="5.0" fill="#0000ff"/>
<circle cx="236.80" cy="652.19" r="5.0" fill="#0000ff"/>
<circle cx="268.85" cy="655.89" r="5.0" fill="#0000ff"/>
<circle cx="300.90" cy="659.58" r="5.0" fill="#0000ff"/>
<circle cx="332.95" cy="663.28" r="5.0" fill="#0000ff"/>
<circle cx="365.00" cy="666.98" r="5.0" fill="#0000ff"/>
<circle cx="397.05" cy="670.68" r="5.0" fill="#0000ff"/>
<circle cx="429.10" cy="674.38" r="5.0" fill="#0000ff"/>
<line x1="115.60" y1="684.00" x2="454.40" y2="726.50" stroke="#464646" stroke-width="2.3"/>
<circle cx="140.65" cy="687.14" r="5.0" fill="#464646"/>
<circle cx="172.70" cy="691.16" r="5.0" fill="#464646"/>
<circle cx="204.75" cy="696.88" r="5.0" fill="#464646"/>
<circle cx="236.80" cy="697.20" r="5.0" fill="#464646"/>
<circle cx="268.85" cy="703.22" r="5.0" fill="#464646"/>
<circle cx="300.90" cy="707.24" r="5.0" fill="#464646"/>
<circle cx="332.95" cy="711.26" r="5.0" fill="#464646"/>
<circle cx="365.00" cy="715.29" r="5.0" fill="#464646"/>
<circle cx="397.05" cy="719.31" r="5.0" fill="#464646"/>
<circle cx="429.10" cy="723.33" r="5.0" fill="#464646"/>
<line x1="115.60" y1="818.40" x2="454.40" y2="848.00" stroke="#008b00" stroke-width="2.3"/>
<circle cx="140.65" cy="821.89" r="5.0" fill="#008b00"/>
<circle cx="172.70" cy="823.39" r="5.0" fill="#008b00"/>
<circle cx="204.75" cy="826.19" r="5.0" fill="#008b00"/>
<circle cx="236.80" cy="828.99" r="5.0" fill="#008b00"/>
<circle cx="268.85" cy="831.79" r="5.0" fill="#008b00"/>
<circle cx="300.90" cy="831.89" r="5.0" fill="#008b00"/>
<circle cx="332.95" cy="837.39" r="5.0" fill="#008b00"/>
<circle cx="365.00" cy="841.09" r="5.0" fill="#008b00"/>
<circle cx="397.05" cy="845.99" r="5.0" fill="#008b00"/>
<circle cx="429.10" cy="845.09" r="5.0" fill="#008b00"/>
<line x1="115.60" y1="827.80" x2="454.40" y2="861.40" stroke="#ff0000" stroke-width="2.3"/>
<circle cx="140.65" cy="832.08" r="5.0" fill="#ff0000"/>
<circle cx="172.70" cy="833.46" r="5.0" fill="#ff0000"/>
<circle cx="204.75" cy="836.64" r="5.0" fill="#ff0000"/>
<circle cx="236.80" cy="839.82" r="5.0" fill="#ff0000"/>
<circle cx="268.85" cy="843.00" r="5.0" fill="#ff0000"/>
<circle cx="300.90" cy="846.18" r="5.0" fill="#ff0000"/>
<circle cx="332.95" cy="849.36" r="5.0" fill="#ff0000"/>
<circle cx="365.00" cy="852.53" r="5.0" fill="#ff0000"/>
<circle cx="397.05" cy="855.71" r="5.0" fill="#ff0000"/>
<circle cx="429.10" cy="858.89" r="5.0" fill="#ff0000"/>
<line x1="461.40" y1="623.20" x2="813.00" y2="638.70" stroke="#000" stroke-width="2.1"/>
<line x1="461.40" y1="641.10" x2="813.00" y2="655.20" stroke="#0000ff" stroke-width="2.1"/>
<line x1="461.40" y1="686.20" x2="813.00" y2="698.40" stroke="#464646" stroke-width="2.1"/>
<line x1="461.40" y1="820.60" x2="813.00" y2="838.50" stroke="#008b00" stroke-width="2.1"/>
<line x1="461.40" y1="829.40" x2="813.00" y2="848.80" stroke="#ff0000" stroke-width="2.1"/>
<rect x="108.6" y="593.0" width="704.4" height="304.70000000000005" fill="none" stroke="#000" stroke-width="1.3"/>
<line x1="461.40" y1="593.00" x2="461.40" y2="897.70" stroke="#000" stroke-width="1.3"/>
<text x="102.20" y="629.10" font-size="26.7" text-anchor="end" fill="#000" font-style="normal" >0.3</text>
<text x="102.20" y="678.84" font-size="26.7" text-anchor="end" fill="#000" font-style="normal" >0.15</text>
<text x="102.20" y="728.58" font-size="26.7" text-anchor="end" fill="#000" font-style="normal" >0</text>
<text x="102.20" y="778.32" font-size="26.7" text-anchor="end" fill="#000" font-style="normal" >−0.15</text>
<text x="102.20" y="828.06" font-size="26.7" text-anchor="end" fill="#000" font-style="normal" >−0.3</text>
<text x="102.20" y="877.80" font-size="26.7" text-anchor="end" fill="#000" font-style="normal" >−0.45</text>
<text x="108.90" y="923.20" font-size="26.7" text-anchor="middle" fill="#000" font-style="normal" >0</text>
<text x="461.70" y="923.20" font-size="26.7" text-anchor="middle" fill="#000" font-style="normal" >0</text>
<text x="173.00" y="923.20" font-size="26.7" text-anchor="middle" fill="#000" font-style="normal" >1</text>
<text x="532.02" y="923.20" font-size="26.7" text-anchor="middle" fill="#000" font-style="normal" >1</text>
<text x="237.10" y="923.20" font-size="26.7" text-anchor="middle" fill="#000" font-style="normal" >2</text>
<text x="602.34" y="923.20" font-size="26.7" text-anchor="middle" fill="#000" font-style="normal" >2</text>
<text x="301.20" y="923.20" font-size="26.7" text-anchor="middle" fill="#000" font-style="normal" >3</text>
<text x="672.66" y="923.20" font-size="26.7" text-anchor="middle" fill="#000" font-style="normal" >3</text>
<text x="365.30" y="923.20" font-size="26.7" text-anchor="middle" fill="#000" font-style="normal" >4</text>
<text x="742.98" y="923.20" font-size="26.7" text-anchor="middle" fill="#000" font-style="normal" >4</text>
<text x="429.40" y="923.20" font-size="26.7" text-anchor="middle" fill="#000" font-style="normal" >5</text>
<text x="813.30" y="923.20" font-size="26.7" text-anchor="middle" fill="#000" font-style="normal" >5</text>
<text x="242.20" y="955.00" font-size="36" text-anchor="start" fill="#000" font-style="italic" >B</text>
<text x="273.80" y="955.40" font-size="35" text-anchor="start" fill="#000" font-style="normal" >[</text>
<text x="290.20" y="955.00" font-size="36" text-anchor="start" fill="#000" font-style="normal" >T</text>
<text x="318.30" y="955.40" font-size="35" text-anchor="start" fill="#000" font-style="normal" >]</text>
<text x="596.30" y="955.00" font-size="36" text-anchor="start" fill="#000" font-style="italic" >B</text>
<text x="627.90" y="955.40" font-size="35" text-anchor="start" fill="#000" font-style="normal" >[</text>
<text x="644.30" y="955.00" font-size="36" text-anchor="start" fill="#000" font-style="normal" >T</text>
<text x="672.40" y="955.40" font-size="35" text-anchor="start" fill="#000" font-style="normal" >]</text>
<g transform="translate(28.0,831.3) rotate(-90)">
<text x="0" y="0" font-size="36.6">TAMR</text>
<text x="109.5" y="0" font-size="35">[</text>
<text x="131.5" y="0" font-size="36" font-style="italic">%</text>
<text x="162.5" y="0" font-size="35">]</text>
</g>
<text x="451.0" y="630.2" font-size="20.5" text-anchor="end" fill="#000">135 mV</text>
<text x="364.40" y="630.2" font-size="20.5" fill="#000" textLength="13.2" lengthAdjust="spacingAndGlyphs">=</text>
<text x="349.40" y="634.2" font-size="14.5" fill="#000">b</text>
<text x="337.00" y="630.2" font-size="20.5" font-style="italic" fill="#000">V</text>
<text x="449.5" y="698.9" font-size="20.5" text-anchor="end" fill="#0000ff">90 mV</text>
<text x="373.15" y="698.9" font-size="20.5" fill="#0000ff" textLength="13.2" lengthAdjust="spacingAndGlyphs">=</text>
<text x="358.15" y="702.9" font-size="14.5" fill="#0000ff">b</text>
<text x="345.75" y="698.9" font-size="20.5" font-style="italic" fill="#0000ff">V</text>
<text x="449.5" y="747.9" font-size="20.5" text-anchor="end" fill="#464646">50 mV</text>
<text x="373.15" y="747.9" font-size="20.5" fill="#464646" textLength="13.2" lengthAdjust="spacingAndGlyphs">=</text>
<text x="358.15" y="751.9" font-size="14.5" fill="#464646">b</text>
<text x="345.75" y="747.9" font-size="20.5" font-style="italic" fill="#464646">V</text>
<text x="449.5" y="821.5" font-size="20.5" text-anchor="end" fill="#008b00">90 mV</text>
<text x="380.95" y="821.5" font-size="20.5" fill="#008b00" textLength="13.2" lengthAdjust="spacingAndGlyphs">−</text>
<text x="359.95" y="821.5" font-size="20.5" fill="#008b00" textLength="13.2" lengthAdjust="spacingAndGlyphs">=</text>
<text x="344.95" y="825.5" font-size="14.5" fill="#008b00">b</text>
<text x="332.55" y="821.5" font-size="20.5" font-style="italic" fill="#008b00">V</text>
<text x="449.5" y="886.2" font-size="20.5" text-anchor="end" fill="#ff0000">50 mV</text>
<text x="380.95" y="886.2" font-size="20.5" fill="#ff0000" textLength="13.2" lengthAdjust="spacingAndGlyphs">−</text>
<text x="359.95" y="886.2" font-size="20.5" fill="#ff0000" textLength="13.2" lengthAdjust="spacingAndGlyphs">=</text>
<text x="344.95" y="890.2" font-size="14.5" fill="#ff0000">b</text>
<text x="332.55" y="886.2" font-size="20.5" font-style="italic" fill="#ff0000">V</text>
<text x="794.40" y="626.7" font-size="20.5" text-anchor="end" fill="#000">29.3 eVÅ</text>
<text x="795.10" y="618.5" font-size="15.5" fill="#000">2</text>
<text x="696.71" y="626.7" font-size="20.5" fill="#000" textLength="12.8" lengthAdjust="spacingAndGlyphs">=</text>
<text x="678.11" y="626.7" font-size="20.5" font-style="italic" fill="#000">α</text>
<text x="794.40" y="676.9" font-size="20.5" text-anchor="end" fill="#0000ff">24.3 eVÅ</text>
<text x="795.10" y="668.6999999999999" font-size="15.5" fill="#0000ff">2</text>
<text x="696.71" y="676.9" font-size="20.5" fill="#0000ff" textLength="12.8" lengthAdjust="spacingAndGlyphs">=</text>
<text x="678.11" y="676.9" font-size="20.5" font-style="italic" fill="#0000ff">α</text>
<text x="794.40" y="721.0" font-size="20.5" text-anchor="end" fill="#464646">10.5 eVÅ</text>
<text x="795.10" y="712.8" font-size="15.5" fill="#464646">2</text>
<text x="696.71" y="721.0" font-size="20.5" fill="#464646" textLength="12.8" lengthAdjust="spacingAndGlyphs">=</text>
<text x="678.11" y="721.0" font-size="20.5" font-style="italic" fill="#464646">α</text>
<text x="792.40" y="824.4" font-size="20.5" text-anchor="end" fill="#008b00">30.8 eVÅ</text>
<text x="793.10" y="816.1999999999999" font-size="15.5" fill="#008b00">2</text>
<text x="700.51" y="824.4" font-size="20.5" fill="#008b00" textLength="13.2" lengthAdjust="spacingAndGlyphs">−</text>
<text x="681.51" y="824.4" font-size="20.5" fill="#008b00" textLength="12.8" lengthAdjust="spacingAndGlyphs">=</text>
<text x="662.91" y="824.4" font-size="20.5" font-style="italic" fill="#008b00">α</text>
<text x="792.40" y="872.3" font-size="20.5" text-anchor="end" fill="#ff0000">33.4 eVÅ</text>
<text x="793.10" y="864.0999999999999" font-size="15.5" fill="#ff0000">2</text>
<text x="700.51" y="872.3" font-size="20.5" fill="#ff0000" textLength="13.2" lengthAdjust="spacingAndGlyphs">−</text>
<text x="681.51" y="872.3" font-size="20.5" fill="#ff0000" textLength="12.8" lengthAdjust="spacingAndGlyphs">=</text>
<text x="662.91" y="872.3" font-size="20.5" font-style="italic" fill="#ff0000">α</text>
</svg>
</body></html>
